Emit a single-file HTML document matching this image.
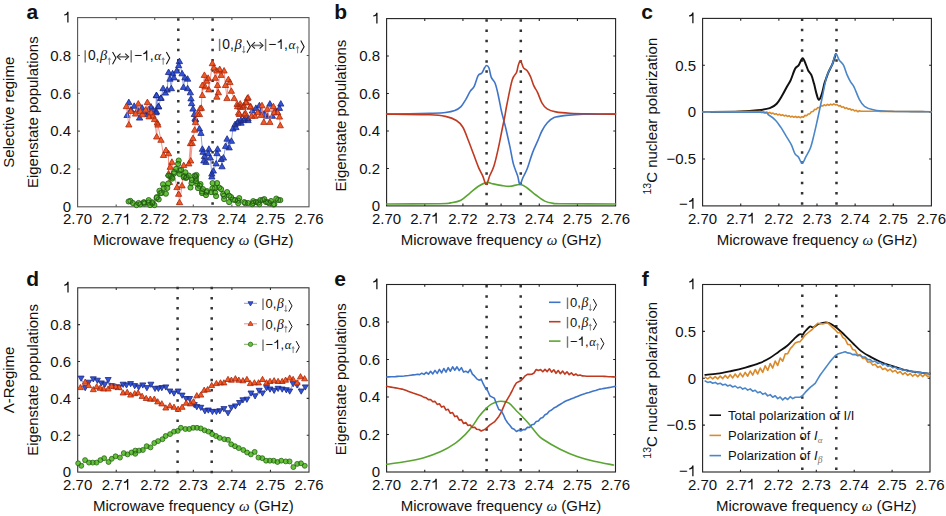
<!DOCTYPE html><html><head><meta charset="utf-8"><style>html,body{margin:0;padding:0;background:#fff;width:946px;height:516px;overflow:hidden}svg{display:block}text{font-family:"Liberation Sans",sans-serif;fill:#111}.sf{font-family:"Liberation Serif",serif;font-style:italic}</style></head><body>
<svg width="946" height="516" viewBox="0 0 946 516">
<rect x="77.6" y="17.6" width="231.40" height="189.20" fill="none" stroke="#555" stroke-width="1.1"/>
<path d="M116.17 206.8v-2.3M116.17 17.6v2.3M154.73 206.8v-2.3M154.73 17.6v2.3M193.30 206.8v-2.3M193.30 17.6v2.3M231.87 206.8v-2.3M231.87 17.6v2.3M270.43 206.8v-2.3M270.43 17.6v2.3M77.6 168.96h2.3M309.0 168.96h-2.3M77.6 131.12h2.3M309.0 131.12h-2.3M77.6 93.28h2.3M309.0 93.28h-2.3M77.6 55.44h2.3M309.0 55.44h-2.3" stroke="#555" stroke-width="1.1" fill="none"/>
<rect x="386.6" y="18.6" width="229.00" height="187.30" fill="none" stroke="#222" stroke-width="1.1"/>
<path d="M424.77 205.9v-2.3M424.77 18.6v2.3M462.93 205.9v-2.3M462.93 18.6v2.3M501.10 205.9v-2.3M501.10 18.6v2.3M539.27 205.9v-2.3M539.27 18.6v2.3M577.43 205.9v-2.3M577.43 18.6v2.3M386.6 168.44h2.3M615.6 168.44h-2.3M386.6 130.98h2.3M615.6 130.98h-2.3M386.6 93.52h2.3M615.6 93.52h-2.3M386.6 56.06h2.3M615.6 56.06h-2.3" stroke="#222" stroke-width="1.1" fill="none"/>
<rect x="702.6" y="18.4" width="228.80" height="187.50" fill="none" stroke="#222" stroke-width="1.1"/>
<path d="M740.73 205.9v-2.3M740.73 18.4v2.3M778.87 205.9v-2.3M778.87 18.4v2.3M817.00 205.9v-2.3M817.00 18.4v2.3M855.13 205.9v-2.3M855.13 18.4v2.3M893.27 205.9v-2.3M893.27 18.4v2.3M702.6 159.03h2.3M931.4 159.03h-2.3M702.6 112.15h2.3M931.4 112.15h-2.3M702.6 65.28h2.3M931.4 65.28h-2.3" stroke="#222" stroke-width="1.1" fill="none"/>
<rect x="77.7" y="287.8" width="231.30" height="184.30" fill="none" stroke="#333" stroke-width="1.1"/>
<path d="M116.25 472.1v-2.3M116.25 287.8v2.3M154.80 472.1v-2.3M154.80 287.8v2.3M193.35 472.1v-2.3M193.35 287.8v2.3M231.90 472.1v-2.3M231.90 287.8v2.3M270.45 472.1v-2.3M270.45 287.8v2.3M77.7 435.24h2.3M309.0 435.24h-2.3M77.7 398.38h2.3M309.0 398.38h-2.3M77.7 361.52h2.3M309.0 361.52h-2.3M77.7 324.66h2.3M309.0 324.66h-2.3" stroke="#333" stroke-width="1.1" fill="none"/>
<rect x="386.6" y="284.5" width="228.90" height="187.50" fill="none" stroke="#222" stroke-width="1.1"/>
<path d="M424.75 472.0v-2.3M424.75 284.5v2.3M462.90 472.0v-2.3M462.90 284.5v2.3M501.05 472.0v-2.3M501.05 284.5v2.3M539.20 472.0v-2.3M539.20 284.5v2.3M577.35 472.0v-2.3M577.35 284.5v2.3M386.6 434.50h2.3M615.5 434.50h-2.3M386.6 397.00h2.3M615.5 397.00h-2.3M386.6 359.50h2.3M615.5 359.50h-2.3M386.6 322.00h2.3M615.5 322.00h-2.3" stroke="#222" stroke-width="1.1" fill="none"/>
<rect x="702.6" y="284.5" width="227.40" height="187.50" fill="none" stroke="#222" stroke-width="1.1"/>
<path d="M740.50 472.0v-2.3M740.50 284.5v2.3M778.40 472.0v-2.3M778.40 284.5v2.3M816.30 472.0v-2.3M816.30 284.5v2.3M854.20 472.0v-2.3M854.20 284.5v2.3M892.10 472.0v-2.3M892.10 284.5v2.3M702.6 425.12h2.3M930.0 425.12h-2.3M702.6 378.25h2.3M930.0 378.25h-2.3M702.6 331.38h2.3M930.0 331.38h-2.3" stroke="#222" stroke-width="1.1" fill="none"/>
<text x="63.00" y="224.40" font-size="15" style="fill:#111">2.70</text>
<text x="101.57" y="224.40" font-size="15" style="fill:#111">2.7<tspan style="fill:transparent">1</tspan></text>
<path d="M126.92 213.66L128.20 213.66L128.20 224.40L126.92 224.40L126.92 216.60C126.17 217.20 124.97 217.50 123.77 217.58L123.77 216.53C125.27 216.30 126.47 215.40 126.92 213.66Z" fill="#111"/>
<text x="140.14" y="224.40" font-size="15" style="fill:#111">2.72</text>
<text x="178.70" y="224.40" font-size="15" style="fill:#111">2.73</text>
<text x="217.27" y="224.40" font-size="15" style="fill:#111">2.74</text>
<text x="255.84" y="224.40" font-size="15" style="fill:#111">2.75</text>
<text x="294.40" y="224.40" font-size="15" style="fill:#111">2.76</text>
<text x="62.76" y="212.10" font-size="15" style="fill:#111">0</text>
<text x="50.25" y="174.26" font-size="15" style="fill:#111">0.2</text>
<text x="50.25" y="136.42" font-size="15" style="fill:#111">0.4</text>
<text x="50.25" y="98.58" font-size="15" style="fill:#111">0.6</text>
<text x="50.25" y="60.74" font-size="15" style="fill:#111">0.8</text>
<text x="62.76" y="22.40" font-size="15" style="fill:#111"><tspan style="fill:transparent">1</tspan></text>
<path d="M67.26 11.66L68.53 11.66L68.53 22.40L67.26 22.40L67.26 14.60C66.51 15.20 65.31 15.50 64.11 15.57L64.11 14.52C65.61 14.30 66.81 13.40 67.26 11.66Z" fill="#111"/>
<text x="193.30" y="245.40" font-size="15" text-anchor="middle">Microwave frequency <tspan class="sf">ω</tspan> (GHz)</text>
<text transform="translate(37.5,112.20) rotate(-90)" font-size="15" text-anchor="middle">Eigenstate populations</text>
<text transform="translate(14,112.20) rotate(-90)" font-size="15" text-anchor="middle">Selective regime</text>
<text x="372.00" y="223.50" font-size="15" style="fill:#111">2.70</text>
<text x="410.17" y="223.50" font-size="15" style="fill:#111">2.7<tspan style="fill:transparent">1</tspan></text>
<path d="M435.52 212.76L436.80 212.76L436.80 223.50L435.52 223.50L435.52 215.70C434.77 216.30 433.57 216.60 432.37 216.68L432.37 215.62C433.87 215.40 435.07 214.50 435.52 212.76Z" fill="#111"/>
<text x="448.34" y="223.50" font-size="15" style="fill:#111">2.72</text>
<text x="486.50" y="223.50" font-size="15" style="fill:#111">2.73</text>
<text x="524.67" y="223.50" font-size="15" style="fill:#111">2.74</text>
<text x="562.84" y="223.50" font-size="15" style="fill:#111">2.75</text>
<text x="601.00" y="223.50" font-size="15" style="fill:#111">2.76</text>
<text x="371.76" y="211.20" font-size="15" style="fill:#111">0</text>
<text x="359.25" y="173.74" font-size="15" style="fill:#111">0.2</text>
<text x="359.25" y="136.28" font-size="15" style="fill:#111">0.4</text>
<text x="359.25" y="98.82" font-size="15" style="fill:#111">0.6</text>
<text x="359.25" y="61.36" font-size="15" style="fill:#111">0.8</text>
<text x="371.76" y="23.40" font-size="15" style="fill:#111"><tspan style="fill:transparent">1</tspan></text>
<path d="M376.26 12.66L377.53 12.66L377.53 23.40L376.26 23.40L376.26 15.60C375.51 16.20 374.31 16.50 373.11 16.57L373.11 15.52C374.61 15.30 375.81 14.40 376.26 12.66Z" fill="#111"/>
<text x="501.10" y="244.50" font-size="15" text-anchor="middle">Microwave frequency <tspan class="sf">ω</tspan> (GHz)</text>
<text transform="translate(346,115.55) rotate(-90)" font-size="15" text-anchor="middle">Eigenstate populations</text>
<text x="688.00" y="223.50" font-size="15" style="fill:#111">2.70</text>
<text x="726.14" y="223.50" font-size="15" style="fill:#111">2.7<tspan style="fill:transparent">1</tspan></text>
<path d="M751.49 212.76L752.76 212.76L752.76 223.50L751.49 223.50L751.49 215.70C750.74 216.30 749.54 216.60 748.34 216.68L748.34 215.62C749.84 215.40 751.04 214.50 751.49 212.76Z" fill="#111"/>
<text x="764.27" y="223.50" font-size="15" style="fill:#111">2.72</text>
<text x="802.40" y="223.50" font-size="15" style="fill:#111">2.73</text>
<text x="840.54" y="223.50" font-size="15" style="fill:#111">2.74</text>
<text x="878.67" y="223.50" font-size="15" style="fill:#111">2.75</text>
<text x="916.80" y="223.50" font-size="15" style="fill:#111">2.76</text>
<text x="679.00" y="208.70" font-size="15" style="fill:#111">−<tspan style="fill:transparent">1</tspan></text>
<path d="M692.26 197.96L693.53 197.96L693.53 208.70L692.26 208.70L692.26 200.90C691.51 201.50 690.31 201.80 689.11 201.88L689.11 200.83C690.61 200.60 691.81 199.70 692.26 197.96Z" fill="#111"/>
<text x="666.49" y="164.33" font-size="15" style="fill:#111">−0.5</text>
<text x="687.76" y="117.45" font-size="15" style="fill:#111">0</text>
<text x="675.25" y="70.58" font-size="15" style="fill:#111">0.5</text>
<text x="687.76" y="23.20" font-size="15" style="fill:#111"><tspan style="fill:transparent">1</tspan></text>
<path d="M692.26 12.46L693.53 12.46L693.53 23.20L692.26 23.20L692.26 15.40C691.51 16.00 690.31 16.30 689.11 16.38L689.11 15.33C690.61 15.10 691.81 14.20 692.26 12.46Z" fill="#111"/>
<text x="817.00" y="244.50" font-size="15" text-anchor="middle">Microwave frequency <tspan class="sf">ω</tspan> (GHz)</text>
<text transform="translate(657,116.15) rotate(-90)" font-size="15" text-anchor="middle"><tspan font-size="10.5" dy="-6.3">13</tspan><tspan dy="6.3">C nuclear polarization</tspan></text>
<text x="63.10" y="489.70" font-size="15" style="fill:#111">2.70</text>
<text x="101.65" y="489.70" font-size="15" style="fill:#111">2.7<tspan style="fill:transparent">1</tspan></text>
<path d="M127.00 478.96L128.28 478.96L128.28 489.70L127.00 489.70L127.00 481.90C126.25 482.50 125.05 482.80 123.85 482.88L123.85 481.83C125.35 481.60 126.55 480.70 127.00 478.96Z" fill="#111"/>
<text x="140.20" y="489.70" font-size="15" style="fill:#111">2.72</text>
<text x="178.75" y="489.70" font-size="15" style="fill:#111">2.73</text>
<text x="217.30" y="489.70" font-size="15" style="fill:#111">2.74</text>
<text x="255.85" y="489.70" font-size="15" style="fill:#111">2.75</text>
<text x="294.40" y="489.70" font-size="15" style="fill:#111">2.76</text>
<text x="62.86" y="477.40" font-size="15" style="fill:#111">0</text>
<text x="50.35" y="440.54" font-size="15" style="fill:#111">0.2</text>
<text x="50.35" y="403.68" font-size="15" style="fill:#111">0.4</text>
<text x="50.35" y="366.82" font-size="15" style="fill:#111">0.6</text>
<text x="50.35" y="329.96" font-size="15" style="fill:#111">0.8</text>
<text x="62.86" y="292.60" font-size="15" style="fill:#111"><tspan style="fill:transparent">1</tspan></text>
<path d="M67.36 281.86L68.63 281.86L68.63 292.60L67.36 292.60L67.36 284.80C66.61 285.40 65.41 285.70 64.21 285.78L64.21 284.73C65.71 284.50 66.91 283.60 67.36 281.86Z" fill="#111"/>
<text x="193.35" y="510.70" font-size="15" text-anchor="middle">Microwave frequency <tspan class="sf">ω</tspan> (GHz)</text>
<text transform="translate(37.5,379.95) rotate(-90)" font-size="15" text-anchor="middle">Eigenstate populations</text>
<text transform="translate(14,379.95) rotate(-90)" font-size="15" text-anchor="middle">Λ-Regime</text>
<text x="372.00" y="489.60" font-size="15" style="fill:#111">2.70</text>
<text x="410.15" y="489.60" font-size="15" style="fill:#111">2.7<tspan style="fill:transparent">1</tspan></text>
<path d="M435.50 478.86L436.78 478.86L436.78 489.60L435.50 489.60L435.50 481.80C434.75 482.40 433.55 482.70 432.35 482.78L432.35 481.73C433.85 481.50 435.05 480.60 435.50 478.86Z" fill="#111"/>
<text x="448.30" y="489.60" font-size="15" style="fill:#111">2.72</text>
<text x="486.45" y="489.60" font-size="15" style="fill:#111">2.73</text>
<text x="524.60" y="489.60" font-size="15" style="fill:#111">2.74</text>
<text x="562.75" y="489.60" font-size="15" style="fill:#111">2.75</text>
<text x="600.90" y="489.60" font-size="15" style="fill:#111">2.76</text>
<text x="371.76" y="477.30" font-size="15" style="fill:#111">0</text>
<text x="359.25" y="439.80" font-size="15" style="fill:#111">0.2</text>
<text x="359.25" y="402.30" font-size="15" style="fill:#111">0.4</text>
<text x="359.25" y="364.80" font-size="15" style="fill:#111">0.6</text>
<text x="359.25" y="327.30" font-size="15" style="fill:#111">0.8</text>
<text x="371.76" y="289.30" font-size="15" style="fill:#111"><tspan style="fill:transparent">1</tspan></text>
<path d="M376.26 278.56L377.53 278.56L377.53 289.30L376.26 289.30L376.26 281.50C375.51 282.10 374.31 282.40 373.11 282.48L373.11 281.43C374.61 281.20 375.81 280.30 376.26 278.56Z" fill="#111"/>
<text x="501.05" y="510.60" font-size="15" text-anchor="middle">Microwave frequency <tspan class="sf">ω</tspan> (GHz)</text>
<text transform="translate(346,379.25) rotate(-90)" font-size="15" text-anchor="middle">Eigenstate populations</text>
<text x="688.00" y="489.60" font-size="15" style="fill:#111">2.70</text>
<text x="725.90" y="489.60" font-size="15" style="fill:#111">2.7<tspan style="fill:transparent">1</tspan></text>
<path d="M751.25 478.86L752.53 478.86L752.53 489.60L751.25 489.60L751.25 481.80C750.50 482.40 749.30 482.70 748.10 482.78L748.10 481.73C749.60 481.50 750.80 480.60 751.25 478.86Z" fill="#111"/>
<text x="763.80" y="489.60" font-size="15" style="fill:#111">2.72</text>
<text x="801.70" y="489.60" font-size="15" style="fill:#111">2.73</text>
<text x="839.60" y="489.60" font-size="15" style="fill:#111">2.74</text>
<text x="877.50" y="489.60" font-size="15" style="fill:#111">2.75</text>
<text x="915.40" y="489.60" font-size="15" style="fill:#111">2.76</text>
<text x="679.00" y="476.30" font-size="15" style="fill:#111">−<tspan style="fill:transparent">1</tspan></text>
<path d="M692.26 465.56L693.53 465.56L693.53 476.30L692.26 476.30L692.26 468.50C691.51 469.10 690.31 469.40 689.11 469.48L689.11 468.43C690.61 468.20 691.81 467.30 692.26 465.56Z" fill="#111"/>
<text x="666.49" y="430.43" font-size="15" style="fill:#111">−0.5</text>
<text x="687.76" y="383.55" font-size="15" style="fill:#111">0</text>
<text x="675.25" y="336.68" font-size="15" style="fill:#111">0.5</text>
<text x="687.76" y="289.30" font-size="15" style="fill:#111"><tspan style="fill:transparent">1</tspan></text>
<path d="M692.26 278.56L693.53 278.56L693.53 289.30L692.26 289.30L692.26 281.50C691.51 282.10 690.31 282.40 689.11 282.48L689.11 281.43C690.61 281.20 691.81 280.30 692.26 278.56Z" fill="#111"/>
<text x="816.30" y="510.60" font-size="15" text-anchor="middle">Microwave frequency <tspan class="sf">ω</tspan> (GHz)</text>
<text transform="translate(657,380.25) rotate(-90)" font-size="15" text-anchor="middle"><tspan font-size="10.5" dy="-6.3">13</tspan><tspan dy="6.3">C nuclear polarization</tspan></text>
<text x="26.5" y="19.1" font-size="21" font-weight="bold">a</text>
<text x="334.2" y="19.1" font-size="21" font-weight="bold">b</text>
<text x="641.3" y="19.1" font-size="21" font-weight="bold">c</text>
<text x="26.3" y="286.4" font-size="21" font-weight="bold">d</text>
<text x="334.3" y="286.4" font-size="21" font-weight="bold">e</text>
<text x="641.8" y="286.4" font-size="21" font-weight="bold">f</text>
<path d="M177.05 18.15h2.5v2.5h-2.5zM177.05 28.38h2.5v2.5h-2.5zM177.05 38.61h2.5v2.5h-2.5zM177.05 48.83h2.5v2.5h-2.5zM177.05 59.06h2.5v2.5h-2.5zM177.05 69.29h2.5v2.5h-2.5zM177.05 79.52h2.5v2.5h-2.5zM177.05 89.74h2.5v2.5h-2.5zM177.05 99.97h2.5v2.5h-2.5zM177.05 110.20h2.5v2.5h-2.5zM177.05 120.43h2.5v2.5h-2.5zM177.05 130.66h2.5v2.5h-2.5zM177.05 140.88h2.5v2.5h-2.5zM177.05 151.11h2.5v2.5h-2.5zM177.05 161.34h2.5v2.5h-2.5zM177.05 171.57h2.5v2.5h-2.5zM177.05 181.79h2.5v2.5h-2.5zM177.05 192.02h2.5v2.5h-2.5zM177.05 202.25h2.5v2.5h-2.5zM211.35 18.15h2.5v2.5h-2.5zM211.35 28.38h2.5v2.5h-2.5zM211.35 38.61h2.5v2.5h-2.5zM211.35 48.83h2.5v2.5h-2.5zM211.35 59.06h2.5v2.5h-2.5zM211.35 69.29h2.5v2.5h-2.5zM211.35 79.52h2.5v2.5h-2.5zM211.35 89.74h2.5v2.5h-2.5zM211.35 99.97h2.5v2.5h-2.5zM211.35 110.20h2.5v2.5h-2.5zM211.35 120.43h2.5v2.5h-2.5zM211.35 130.66h2.5v2.5h-2.5zM211.35 140.88h2.5v2.5h-2.5zM211.35 151.11h2.5v2.5h-2.5zM211.35 161.34h2.5v2.5h-2.5zM211.35 171.57h2.5v2.5h-2.5zM211.35 181.79h2.5v2.5h-2.5zM211.35 192.02h2.5v2.5h-2.5zM211.35 202.25h2.5v2.5h-2.5z" fill="#333"/>
<path d="M485.35 19.35h2.5v2.5h-2.5zM485.35 29.54h2.5v2.5h-2.5zM485.35 39.74h2.5v2.5h-2.5zM485.35 49.93h2.5v2.5h-2.5zM485.35 60.13h2.5v2.5h-2.5zM485.35 70.32h2.5v2.5h-2.5zM485.35 80.52h2.5v2.5h-2.5zM485.35 90.71h2.5v2.5h-2.5zM485.35 100.91h2.5v2.5h-2.5zM485.35 111.10h2.5v2.5h-2.5zM485.35 121.29h2.5v2.5h-2.5zM485.35 131.49h2.5v2.5h-2.5zM485.35 141.68h2.5v2.5h-2.5zM485.35 151.88h2.5v2.5h-2.5zM485.35 162.07h2.5v2.5h-2.5zM485.35 172.27h2.5v2.5h-2.5zM485.35 182.46h2.5v2.5h-2.5zM485.35 192.66h2.5v2.5h-2.5zM485.35 202.85h2.5v2.5h-2.5zM519.55 19.35h2.5v2.5h-2.5zM519.55 29.54h2.5v2.5h-2.5zM519.55 39.74h2.5v2.5h-2.5zM519.55 49.93h2.5v2.5h-2.5zM519.55 60.13h2.5v2.5h-2.5zM519.55 70.32h2.5v2.5h-2.5zM519.55 80.52h2.5v2.5h-2.5zM519.55 90.71h2.5v2.5h-2.5zM519.55 100.91h2.5v2.5h-2.5zM519.55 111.10h2.5v2.5h-2.5zM519.55 121.29h2.5v2.5h-2.5zM519.55 131.49h2.5v2.5h-2.5zM519.55 141.68h2.5v2.5h-2.5zM519.55 151.88h2.5v2.5h-2.5zM519.55 162.07h2.5v2.5h-2.5zM519.55 172.27h2.5v2.5h-2.5zM519.55 182.46h2.5v2.5h-2.5zM519.55 192.66h2.5v2.5h-2.5zM519.55 202.85h2.5v2.5h-2.5z" fill="#333"/>
<path d="M800.85 18.55h2.5v2.5h-2.5zM800.85 28.75h2.5v2.5h-2.5zM800.85 38.95h2.5v2.5h-2.5zM800.85 49.15h2.5v2.5h-2.5zM800.85 59.35h2.5v2.5h-2.5zM800.85 69.55h2.5v2.5h-2.5zM800.85 79.75h2.5v2.5h-2.5zM800.85 89.95h2.5v2.5h-2.5zM800.85 100.15h2.5v2.5h-2.5zM800.85 110.35h2.5v2.5h-2.5zM800.85 120.55h2.5v2.5h-2.5zM800.85 130.75h2.5v2.5h-2.5zM800.85 140.95h2.5v2.5h-2.5zM800.85 151.15h2.5v2.5h-2.5zM800.85 161.35h2.5v2.5h-2.5zM800.85 171.55h2.5v2.5h-2.5zM800.85 181.75h2.5v2.5h-2.5zM800.85 191.95h2.5v2.5h-2.5zM800.85 202.15h2.5v2.5h-2.5zM835.25 18.55h2.5v2.5h-2.5zM835.25 28.75h2.5v2.5h-2.5zM835.25 38.95h2.5v2.5h-2.5zM835.25 49.15h2.5v2.5h-2.5zM835.25 59.35h2.5v2.5h-2.5zM835.25 69.55h2.5v2.5h-2.5zM835.25 79.75h2.5v2.5h-2.5zM835.25 89.95h2.5v2.5h-2.5zM835.25 100.15h2.5v2.5h-2.5zM835.25 110.35h2.5v2.5h-2.5zM835.25 120.55h2.5v2.5h-2.5zM835.25 130.75h2.5v2.5h-2.5zM835.25 140.95h2.5v2.5h-2.5zM835.25 151.15h2.5v2.5h-2.5zM835.25 161.35h2.5v2.5h-2.5zM835.25 171.55h2.5v2.5h-2.5zM835.25 181.75h2.5v2.5h-2.5zM835.25 191.95h2.5v2.5h-2.5zM835.25 202.15h2.5v2.5h-2.5z" fill="#333"/>
<path d="M176.35 286.65h2.5v2.5h-2.5zM176.35 296.88h2.5v2.5h-2.5zM176.35 307.11h2.5v2.5h-2.5zM176.35 317.33h2.5v2.5h-2.5zM176.35 327.56h2.5v2.5h-2.5zM176.35 337.79h2.5v2.5h-2.5zM176.35 348.02h2.5v2.5h-2.5zM176.35 358.24h2.5v2.5h-2.5zM176.35 368.47h2.5v2.5h-2.5zM176.35 378.70h2.5v2.5h-2.5zM176.35 388.93h2.5v2.5h-2.5zM176.35 399.16h2.5v2.5h-2.5zM176.35 409.38h2.5v2.5h-2.5zM176.35 419.61h2.5v2.5h-2.5zM176.35 429.84h2.5v2.5h-2.5zM176.35 440.07h2.5v2.5h-2.5zM176.35 450.29h2.5v2.5h-2.5zM176.35 460.52h2.5v2.5h-2.5zM176.35 470.75h2.5v2.5h-2.5zM210.45 286.65h2.5v2.5h-2.5zM210.45 296.88h2.5v2.5h-2.5zM210.45 307.11h2.5v2.5h-2.5zM210.45 317.33h2.5v2.5h-2.5zM210.45 327.56h2.5v2.5h-2.5zM210.45 337.79h2.5v2.5h-2.5zM210.45 348.02h2.5v2.5h-2.5zM210.45 358.24h2.5v2.5h-2.5zM210.45 368.47h2.5v2.5h-2.5zM210.45 378.70h2.5v2.5h-2.5zM210.45 388.93h2.5v2.5h-2.5zM210.45 399.16h2.5v2.5h-2.5zM210.45 409.38h2.5v2.5h-2.5zM210.45 419.61h2.5v2.5h-2.5zM210.45 429.84h2.5v2.5h-2.5zM210.45 440.07h2.5v2.5h-2.5zM210.45 450.29h2.5v2.5h-2.5zM210.45 460.52h2.5v2.5h-2.5zM210.45 470.75h2.5v2.5h-2.5z" fill="#333"/>
<path d="M485.35 284.95h2.5v2.5h-2.5zM485.35 295.18h2.5v2.5h-2.5zM485.35 305.41h2.5v2.5h-2.5zM485.35 315.63h2.5v2.5h-2.5zM485.35 325.86h2.5v2.5h-2.5zM485.35 336.09h2.5v2.5h-2.5zM485.35 346.32h2.5v2.5h-2.5zM485.35 356.54h2.5v2.5h-2.5zM485.35 366.77h2.5v2.5h-2.5zM485.35 377.00h2.5v2.5h-2.5zM485.35 387.23h2.5v2.5h-2.5zM485.35 397.46h2.5v2.5h-2.5zM485.35 407.68h2.5v2.5h-2.5zM485.35 417.91h2.5v2.5h-2.5zM485.35 428.14h2.5v2.5h-2.5zM485.35 438.37h2.5v2.5h-2.5zM485.35 448.59h2.5v2.5h-2.5zM485.35 458.82h2.5v2.5h-2.5zM485.35 469.05h2.5v2.5h-2.5zM519.45 284.95h2.5v2.5h-2.5zM519.45 295.18h2.5v2.5h-2.5zM519.45 305.41h2.5v2.5h-2.5zM519.45 315.63h2.5v2.5h-2.5zM519.45 325.86h2.5v2.5h-2.5zM519.45 336.09h2.5v2.5h-2.5zM519.45 346.32h2.5v2.5h-2.5zM519.45 356.54h2.5v2.5h-2.5zM519.45 366.77h2.5v2.5h-2.5zM519.45 377.00h2.5v2.5h-2.5zM519.45 387.23h2.5v2.5h-2.5zM519.45 397.46h2.5v2.5h-2.5zM519.45 407.68h2.5v2.5h-2.5zM519.45 417.91h2.5v2.5h-2.5zM519.45 428.14h2.5v2.5h-2.5zM519.45 438.37h2.5v2.5h-2.5zM519.45 448.59h2.5v2.5h-2.5zM519.45 458.82h2.5v2.5h-2.5zM519.45 469.05h2.5v2.5h-2.5z" fill="#333"/>
<path d="M801.05 284.35h2.5v2.5h-2.5zM801.05 294.53h2.5v2.5h-2.5zM801.05 304.71h2.5v2.5h-2.5zM801.05 314.88h2.5v2.5h-2.5zM801.05 325.06h2.5v2.5h-2.5zM801.05 335.24h2.5v2.5h-2.5zM801.05 345.42h2.5v2.5h-2.5zM801.05 355.59h2.5v2.5h-2.5zM801.05 365.77h2.5v2.5h-2.5zM801.05 375.95h2.5v2.5h-2.5zM801.05 386.13h2.5v2.5h-2.5zM801.05 396.31h2.5v2.5h-2.5zM801.05 406.48h2.5v2.5h-2.5zM801.05 416.66h2.5v2.5h-2.5zM801.05 426.84h2.5v2.5h-2.5zM801.05 437.02h2.5v2.5h-2.5zM801.05 447.19h2.5v2.5h-2.5zM801.05 457.37h2.5v2.5h-2.5zM801.05 467.55h2.5v2.5h-2.5zM835.05 284.35h2.5v2.5h-2.5zM835.05 294.53h2.5v2.5h-2.5zM835.05 304.71h2.5v2.5h-2.5zM835.05 314.88h2.5v2.5h-2.5zM835.05 325.06h2.5v2.5h-2.5zM835.05 335.24h2.5v2.5h-2.5zM835.05 345.42h2.5v2.5h-2.5zM835.05 355.59h2.5v2.5h-2.5zM835.05 365.77h2.5v2.5h-2.5zM835.05 375.95h2.5v2.5h-2.5zM835.05 386.13h2.5v2.5h-2.5zM835.05 396.31h2.5v2.5h-2.5zM835.05 406.48h2.5v2.5h-2.5zM835.05 416.66h2.5v2.5h-2.5zM835.05 426.84h2.5v2.5h-2.5zM835.05 437.02h2.5v2.5h-2.5zM835.05 447.19h2.5v2.5h-2.5zM835.05 457.37h2.5v2.5h-2.5zM835.05 467.55h2.5v2.5h-2.5z" fill="#333"/>
<path d="M127.1 115.4 L128.8 102.5 L131.0 110.0 L134.2 106.2 L137.6 110.0 L139.6 118.0 L142.0 108.0 L144.0 112.0 L147.8 114.4 L148.5 109.6 L151.0 107.0 L153.2 110.0 L155.9 112.7 L156.4 95.4 L156.4 111.7 L156.6 95.7 L158.4 106.3 L158.6 106.9 L160.7 98.4 L161.1 98.1 L163.1 88.6 L165.4 93.0 L167.2 90.0 L168.6 72.4 L169.9 79.1 L171.3 88.6 L172.6 73.7 L174.0 77.8 L176.7 71.0 L178.7 65.6 L179.4 61.5 L182.1 73.7 L183.5 87.3 L184.9 77.8 L187.6 79.1 L187.6 88.6 L190.3 92.7 L191.0 98.8 L191.6 103.6 L193.0 109.0 L194.3 114.4 L195.1 118.7 L195.7 119.8 L199.4 128.9 L200.9 133.3 L202.4 149.2 L203.1 152.2 L203.8 160.9 L204.5 156.5 L206.0 162.3 L208.2 153.6 L208.9 149.2 L210.3 158.0 L211.8 174.0 L211.8 176.9 L213.3 171.0 L216.2 163.8 L216.9 153.6 L217.6 149.2 L221.2 159.4 L222.0 166.7 L223.4 158.0 L225.6 146.3 L227.1 139.1 L229.2 147.8 L231.4 141.2 L232.9 128.9 L235.1 124.5 L235.9 127.5 L237.6 123.1 L238.0 121.6 L240.9 120.2 L241.1 123.1 L243.7 120.5 L244.5 118.7 L248.1 118.7 L248.1 120.5 L252.4 110.9 L255.9 108.3 L259.4 105.7 L261.2 110.9 L264.6 114.4 L267.3 116.2 L269.9 104.0 L272.5 116.2 L275.0 110.0 L277.0 112.0 L279.5 108.3 L280.8 104.0" stroke="#8a9ad8" stroke-width="0.9" fill="none"/>
<path d="M127.1 112.0L130.2 117.5L123.9 117.5zM128.8 99.1L132.0 104.6L125.7 104.6zM131.0 106.6L134.2 112.1L127.8 112.1zM134.2 102.8L137.3 108.3L131.0 108.3zM137.6 106.6L140.8 112.1L134.4 112.1zM139.6 114.6L142.8 120.1L136.4 120.1zM142.0 104.6L145.2 110.1L138.8 110.1zM144.0 108.6L147.2 114.1L140.8 114.1zM147.8 111.0L151.0 116.5L144.7 116.5zM148.5 106.2L151.7 111.7L145.3 111.7zM151.0 103.6L154.2 109.1L147.8 109.1zM153.2 106.6L156.3 112.1L150.0 112.1zM155.9 109.3L159.1 114.8L152.8 114.8zM156.4 92.0L159.6 97.5L153.2 97.5zM156.4 108.3L159.6 113.8L153.2 113.8zM156.6 92.3L159.8 97.8L153.4 97.8zM158.4 102.9L161.6 108.4L155.2 108.4zM158.6 103.5L161.8 109.0L155.4 109.0zM160.7 95.0L163.8 100.5L157.5 100.5zM161.1 94.7L164.2 100.2L157.9 100.2zM163.1 85.2L166.2 90.7L159.9 90.7zM165.4 89.6L168.6 95.1L162.2 95.1zM167.2 86.6L170.3 92.1L164.0 92.1zM168.6 69.0L171.8 74.5L165.4 74.5zM169.9 75.7L173.1 81.2L166.8 81.2zM171.3 85.2L174.5 90.7L168.2 90.7zM172.6 70.3L175.8 75.8L169.4 75.8zM174.0 74.4L177.2 79.9L170.8 79.9zM176.7 67.6L179.8 73.1L173.5 73.1zM178.7 62.2L181.8 67.7L175.5 67.7zM179.4 58.1L182.6 63.6L176.2 63.6zM182.1 70.3L185.2 75.8L178.9 75.8zM183.5 83.9L186.7 89.4L180.3 89.4zM184.9 74.4L188.1 79.9L181.8 79.9zM187.6 75.7L190.8 81.2L184.4 81.2zM187.6 85.2L190.8 90.7L184.4 90.7zM190.3 89.3L193.5 94.8L187.2 94.8zM191.0 95.4L194.2 100.9L187.8 100.9zM191.6 100.2L194.8 105.7L188.4 105.7zM193.0 105.6L196.2 111.1L189.8 111.1zM194.3 111.0L197.5 116.5L191.2 116.5zM195.1 115.3L198.2 120.8L191.9 120.8zM195.7 116.4L198.8 121.9L192.5 121.9zM199.4 125.5L202.6 131.0L196.2 131.0zM200.9 129.9L204.1 135.4L197.8 135.4zM202.4 145.8L205.6 151.3L199.2 151.3zM203.1 148.8L206.2 154.3L199.9 154.3zM203.8 157.5L207.0 163.0L200.7 163.0zM204.5 153.1L207.7 158.6L201.3 158.6zM206.0 158.9L209.2 164.4L202.8 164.4zM208.2 150.2L211.3 155.7L205.0 155.7zM208.9 145.8L212.1 151.3L205.8 151.3zM210.3 154.6L213.5 160.1L207.2 160.1zM211.8 170.6L215.0 176.1L208.7 176.1zM211.8 173.5L215.0 179.0L208.7 179.0zM213.3 167.6L216.5 173.1L210.2 173.1zM216.2 160.4L219.3 165.9L213.0 165.9zM216.9 150.2L220.1 155.7L213.8 155.7zM217.6 145.8L220.8 151.3L214.4 151.3zM221.2 156.0L224.3 161.5L218.0 161.5zM222.0 163.3L225.2 168.8L218.8 168.8zM223.4 154.6L226.6 160.1L220.2 160.1zM225.6 142.9L228.8 148.4L222.4 148.4zM227.1 135.7L230.2 141.2L223.9 141.2zM229.2 144.4L232.3 149.9L226.0 149.9zM231.4 137.8L234.6 143.3L228.2 143.3zM232.9 125.5L236.1 131.0L229.8 131.0zM235.1 121.1L238.2 126.6L231.9 126.6zM235.9 124.1L239.1 129.6L232.8 129.6zM237.6 119.7L240.8 125.2L234.4 125.2zM238.0 118.2L241.2 123.7L234.8 123.7zM240.9 116.8L244.1 122.3L237.8 122.3zM241.1 119.7L244.2 125.2L237.9 125.2zM243.7 117.1L246.8 122.6L240.5 122.6zM244.5 115.3L247.7 120.8L241.3 120.8zM248.1 115.3L251.2 120.8L244.9 120.8zM248.1 117.1L251.2 122.6L244.9 122.6zM252.4 107.5L255.6 113.0L249.2 113.0zM255.9 104.9L259.1 110.4L252.8 110.4zM259.4 102.3L262.5 107.8L256.2 107.8zM261.2 107.5L264.3 113.0L258.1 113.0zM264.6 111.0L267.8 116.5L261.5 116.5zM267.3 112.8L270.4 118.3L264.2 118.3zM269.9 100.6L273.0 106.1L266.8 106.1zM272.5 112.8L275.6 118.3L269.4 118.3zM275.0 106.6L278.1 112.1L271.9 112.1zM277.0 108.6L280.1 114.1L273.9 114.1zM279.5 104.9L282.6 110.4L276.4 110.4zM280.8 100.6L283.9 106.1L277.7 106.1z" fill="#3355dd" stroke="#1c2a80" stroke-width="0.8" stroke-linejoin="miter"/>
<path d="M126.4 106.6 L128.8 124.9 L130.8 111.3 L135.6 114.0 L138.3 103.9 L140.3 111.3 L142.4 114.7 L145.7 110.0 L147.4 102.5 L149.1 116.8 L151.2 112.7 L153.2 116.1 L154.6 119.5 L156.7 136.9 L157.3 122.9 L157.9 125.0 L161.0 140.2 L163.5 155.4 L166.0 150.4 L168.5 153.7 L168.5 174.0 L169.4 182.4 L170.2 167.2 L171.9 162.2 L177.0 187.5 L178.7 194.2 L179.5 202.6 L182.0 185.8 L183.7 165.5 L188.8 163.8 L190.5 143.6 L190.7 160.9 L192.2 143.4 L193.0 138.5 L194.7 130.1 L195.5 122.5 L197.3 114.2 L199.4 114.5 L200.1 108.7 L201.3 108.2 L202.3 85.4 L202.3 95.4 L204.4 75.3 L205.2 86.9 L206.6 81.1 L208.1 78.2 L208.8 89.8 L212.4 63.6 L213.9 68.0 L215.3 78.2 L216.8 70.9 L216.8 97.1 L217.5 85.4 L218.3 92.7 L219.7 69.4 L221.2 75.3 L224.1 70.9 L225.5 85.4 L227.0 98.5 L228.4 79.6 L229.9 82.5 L231.3 91.2 L234.2 98.5 L237.2 104.3 L237.6 106.6 L238.6 113.0 L239.4 114.4 L240.1 107.2 L240.2 104.0 L243.0 107.2 L243.7 105.7 L244.4 114.5 L245.5 113.5 L245.9 102.9 L246.3 102.2 L247.3 98.5 L248.1 97.8 L250.2 107.2 L250.7 106.6 L251.6 116.2 L255.0 116.2 L257.7 112.7 L261.2 115.3 L262.0 105.7 L263.8 122.3 L267.3 109.2 L269.9 122.3 L273.4 106.6 L274.2 112.7 L277.7 112.7 L279.5 117.0 L280.3 125.7" stroke="#f08a80" stroke-width="0.9" fill="none"/>
<path d="M126.4 103.2L129.6 108.7L123.2 108.7zM128.8 121.5L132.0 127.0L125.7 127.0zM130.8 107.9L134.0 113.4L127.7 113.4zM135.6 110.6L138.8 116.1L132.4 116.1zM138.3 100.5L141.5 106.0L135.2 106.0zM140.3 107.9L143.5 113.4L137.2 113.4zM142.4 111.3L145.6 116.8L139.2 116.8zM145.7 106.6L148.8 112.1L142.5 112.1zM147.4 99.1L150.6 104.6L144.2 104.6zM149.1 113.4L152.2 118.9L145.9 118.9zM151.2 109.3L154.3 114.8L148.0 114.8zM153.2 112.7L156.3 118.2L150.0 118.2zM154.6 116.1L157.8 121.6L151.4 121.6zM156.7 133.5L159.8 139.0L153.5 139.0zM157.3 119.5L160.5 125.0L154.2 125.0zM157.9 121.6L161.1 127.1L154.8 127.1zM161.0 136.8L164.2 142.3L157.8 142.3zM163.5 152.0L166.7 157.5L160.3 157.5zM166.0 147.0L169.2 152.5L162.8 152.5zM168.5 150.3L171.7 155.8L165.3 155.8zM168.5 170.6L171.7 176.1L165.3 176.1zM169.4 179.0L172.6 184.5L166.2 184.5zM170.2 163.8L173.3 169.3L167.0 169.3zM171.9 158.8L175.1 164.3L168.8 164.3zM177.0 184.1L180.2 189.6L173.8 189.6zM178.7 190.8L181.8 196.3L175.5 196.3zM179.5 199.2L182.7 204.7L176.3 204.7zM182.0 182.4L185.2 187.9L178.8 187.9zM183.7 162.1L186.8 167.6L180.5 167.6zM188.8 160.4L192.0 165.9L185.7 165.9zM190.5 140.2L193.7 145.7L187.3 145.7zM190.7 157.5L193.8 163.0L187.5 163.0zM192.2 140.0L195.3 145.5L189.0 145.5zM193.0 135.1L196.2 140.6L189.8 140.6zM194.7 126.7L197.8 132.2L191.5 132.2zM195.5 119.1L198.7 124.6L192.3 124.6zM197.3 110.8L200.5 116.3L194.2 116.3zM199.4 111.1L202.6 116.6L196.2 116.6zM200.1 105.3L203.2 110.8L196.9 110.8zM201.3 104.8L204.5 110.3L198.2 110.3zM202.3 82.0L205.5 87.5L199.2 87.5zM202.3 92.0L205.5 97.5L199.2 97.5zM204.4 71.9L207.6 77.4L201.2 77.4zM205.2 83.5L208.3 89.0L202.0 89.0zM206.6 77.7L209.8 83.2L203.4 83.2zM208.1 74.8L211.2 80.3L204.9 80.3zM208.8 86.4L212.0 91.9L205.7 91.9zM212.4 60.2L215.6 65.7L209.2 65.7zM213.9 64.6L217.1 70.1L210.8 70.1zM215.3 74.8L218.5 80.3L212.2 80.3zM216.8 67.5L220.0 73.0L213.7 73.0zM216.8 93.7L220.0 99.2L213.7 99.2zM217.5 82.0L220.7 87.5L214.3 87.5zM218.3 89.3L221.5 94.8L215.2 94.8zM219.7 66.0L222.8 71.5L216.5 71.5zM221.2 71.9L224.3 77.4L218.0 77.4zM224.1 67.5L227.2 73.0L220.9 73.0zM225.5 82.0L228.7 87.5L222.3 87.5zM227.0 95.1L230.2 100.6L223.8 100.6zM228.4 76.2L231.6 81.7L225.2 81.7zM229.9 79.1L233.1 84.6L226.8 84.6zM231.3 87.8L234.5 93.3L228.2 93.3zM234.2 95.1L237.3 100.6L231.0 100.6zM237.2 100.9L240.3 106.4L234.0 106.4zM237.6 103.2L240.8 108.7L234.4 108.7zM238.6 109.6L241.8 115.1L235.4 115.1zM239.4 111.0L242.6 116.5L236.2 116.5zM240.1 103.8L243.2 109.3L236.9 109.3zM240.2 100.6L243.3 106.1L237.0 106.1zM243.0 103.8L246.2 109.3L239.8 109.3zM243.7 102.3L246.8 107.8L240.5 107.8zM244.4 111.1L247.6 116.6L241.2 116.6zM245.5 110.1L248.7 115.6L242.3 115.6zM245.9 99.5L249.1 105.0L242.8 105.0zM246.3 98.8L249.5 104.3L243.2 104.3zM247.3 95.1L250.5 100.6L244.2 100.6zM248.1 94.4L251.2 99.9L244.9 99.9zM250.2 103.8L253.3 109.3L247.0 109.3zM250.7 103.2L253.8 108.7L247.5 108.7zM251.6 112.8L254.8 118.3L248.4 118.3zM255.0 112.8L258.1 118.3L251.8 118.3zM257.7 109.3L260.8 114.8L254.5 114.8zM261.2 111.9L264.3 117.4L258.1 117.4zM262.0 102.3L265.1 107.8L258.9 107.8zM263.8 118.9L266.9 124.4L260.7 124.4zM267.3 105.8L270.4 111.3L264.2 111.3zM269.9 118.9L273.0 124.4L266.8 124.4zM273.4 103.2L276.5 108.7L270.2 108.7zM274.2 109.3L277.3 114.8L271.1 114.8zM277.7 109.3L280.8 114.8L274.6 114.8zM279.5 113.6L282.6 119.1L276.4 119.1zM280.3 122.3L283.4 127.8L277.2 127.8z" fill="#f25a22" stroke="#a82810" stroke-width="0.8" stroke-linejoin="miter"/>
<path d="M128.6 201.5 L130.4 200.9 L132.9 203.0 L136.5 205.1 L138.6 203.0 L140.1 204.4 L143.7 202.3 L144.1 202.5 L144.4 203.7 L148.5 202.6 L148.7 200.1 L150.1 205.1 L152.3 202.3 L152.4 203.4 L154.4 205.1 L156.6 198.0 L156.8 197.1 L158.7 199.4 L159.4 190.8 L160.3 193.2 L161.6 192.9 L163.0 184.3 L163.7 187.9 L165.9 193.7 L167.3 187.9 L168.2 183.5 L168.5 175.6 L169.5 175.7 L170.9 176.1 L171.9 177.3 L172.3 178.6 L174.0 172.0 L174.1 173.5 L176.1 168.9 L178.1 163.9 L178.7 160.5 L179.5 174.0 L179.5 170.5 L181.0 170.0 L183.7 177.3 L184.2 176.1 L185.4 172.3 L186.0 178.0 L186.8 177.1 L188.8 175.6 L190.5 187.5 L191.5 183.2 L192.0 180.0 L194.7 175.6 L195.4 176.6 L196.0 178.4 L196.0 181.1 L196.5 175.0 L197.2 184.1 L198.0 188.1 L199.6 185.8 L200.5 184.1 L202.0 193.1 L202.1 191.4 L203.0 189.1 L206.0 195.1 L206.4 192.3 L207.0 191.1 L211.1 192.1 L212.4 188.4 L212.6 183.1 L215.1 192.4 L215.1 188.1 L216.1 196.1 L217.1 183.1 L219.2 187.6 L221.1 189.1 L223.1 194.1 L224.1 195.8 L224.1 199.1 L227.1 192.1 L229.1 195.6 L229.1 202.1 L231.1 197.1 L233.0 199.6 L235.2 200.1 L238.0 200.6 L238.2 203.2 L239.2 198.1 L244.2 202.1 L245.2 203.2 L248.0 203.0 L252.2 204.2 L253.2 201.1 L253.2 202.9 L256.0 202.0 L258.4 202.4 L259.3 204.2 L260.3 200.1 L262.7 200.0 L264.3 199.1 L266.0 202.0 L267.8 202.4 L269.3 203.2 L271.0 201.0 L273.3 204.4 L274.3 204.2 L276.3 198.6 L278.2 200.0 L280.3 200.1" stroke="#80b060" stroke-width="0.9" fill="none"/>
<path d="M126.0 201.5a2.6 2.6 0 1 0 5.2 0a2.6 2.6 0 1 0 -5.2 0zM127.8 200.9a2.6 2.6 0 1 0 5.2 0a2.6 2.6 0 1 0 -5.2 0zM130.3 203.0a2.6 2.6 0 1 0 5.2 0a2.6 2.6 0 1 0 -5.2 0zM133.9 205.1a2.6 2.6 0 1 0 5.2 0a2.6 2.6 0 1 0 -5.2 0zM136.0 203.0a2.6 2.6 0 1 0 5.2 0a2.6 2.6 0 1 0 -5.2 0zM137.5 204.4a2.6 2.6 0 1 0 5.2 0a2.6 2.6 0 1 0 -5.2 0zM141.1 202.3a2.6 2.6 0 1 0 5.2 0a2.6 2.6 0 1 0 -5.2 0zM141.5 202.5a2.6 2.6 0 1 0 5.2 0a2.6 2.6 0 1 0 -5.2 0zM141.8 203.7a2.6 2.6 0 1 0 5.2 0a2.6 2.6 0 1 0 -5.2 0zM145.9 202.6a2.6 2.6 0 1 0 5.2 0a2.6 2.6 0 1 0 -5.2 0zM146.1 200.1a2.6 2.6 0 1 0 5.2 0a2.6 2.6 0 1 0 -5.2 0zM147.5 205.1a2.6 2.6 0 1 0 5.2 0a2.6 2.6 0 1 0 -5.2 0zM149.7 202.3a2.6 2.6 0 1 0 5.2 0a2.6 2.6 0 1 0 -5.2 0zM149.8 203.4a2.6 2.6 0 1 0 5.2 0a2.6 2.6 0 1 0 -5.2 0zM151.8 205.1a2.6 2.6 0 1 0 5.2 0a2.6 2.6 0 1 0 -5.2 0zM154.0 198.0a2.6 2.6 0 1 0 5.2 0a2.6 2.6 0 1 0 -5.2 0zM154.2 197.1a2.6 2.6 0 1 0 5.2 0a2.6 2.6 0 1 0 -5.2 0zM156.1 199.4a2.6 2.6 0 1 0 5.2 0a2.6 2.6 0 1 0 -5.2 0zM156.8 190.8a2.6 2.6 0 1 0 5.2 0a2.6 2.6 0 1 0 -5.2 0zM157.7 193.2a2.6 2.6 0 1 0 5.2 0a2.6 2.6 0 1 0 -5.2 0zM159.0 192.9a2.6 2.6 0 1 0 5.2 0a2.6 2.6 0 1 0 -5.2 0zM160.4 184.3a2.6 2.6 0 1 0 5.2 0a2.6 2.6 0 1 0 -5.2 0zM161.1 187.9a2.6 2.6 0 1 0 5.2 0a2.6 2.6 0 1 0 -5.2 0zM163.3 193.7a2.6 2.6 0 1 0 5.2 0a2.6 2.6 0 1 0 -5.2 0zM164.7 187.9a2.6 2.6 0 1 0 5.2 0a2.6 2.6 0 1 0 -5.2 0zM165.6 183.5a2.6 2.6 0 1 0 5.2 0a2.6 2.6 0 1 0 -5.2 0zM165.9 175.6a2.6 2.6 0 1 0 5.2 0a2.6 2.6 0 1 0 -5.2 0zM166.9 175.7a2.6 2.6 0 1 0 5.2 0a2.6 2.6 0 1 0 -5.2 0zM168.3 176.1a2.6 2.6 0 1 0 5.2 0a2.6 2.6 0 1 0 -5.2 0zM169.3 177.3a2.6 2.6 0 1 0 5.2 0a2.6 2.6 0 1 0 -5.2 0zM169.7 178.6a2.6 2.6 0 1 0 5.2 0a2.6 2.6 0 1 0 -5.2 0zM171.4 172.0a2.6 2.6 0 1 0 5.2 0a2.6 2.6 0 1 0 -5.2 0zM171.5 173.5a2.6 2.6 0 1 0 5.2 0a2.6 2.6 0 1 0 -5.2 0zM173.5 168.9a2.6 2.6 0 1 0 5.2 0a2.6 2.6 0 1 0 -5.2 0zM175.5 163.9a2.6 2.6 0 1 0 5.2 0a2.6 2.6 0 1 0 -5.2 0zM176.1 160.5a2.6 2.6 0 1 0 5.2 0a2.6 2.6 0 1 0 -5.2 0zM176.9 174.0a2.6 2.6 0 1 0 5.2 0a2.6 2.6 0 1 0 -5.2 0zM176.9 170.5a2.6 2.6 0 1 0 5.2 0a2.6 2.6 0 1 0 -5.2 0zM178.4 170.0a2.6 2.6 0 1 0 5.2 0a2.6 2.6 0 1 0 -5.2 0zM181.1 177.3a2.6 2.6 0 1 0 5.2 0a2.6 2.6 0 1 0 -5.2 0zM181.6 176.1a2.6 2.6 0 1 0 5.2 0a2.6 2.6 0 1 0 -5.2 0zM182.8 172.3a2.6 2.6 0 1 0 5.2 0a2.6 2.6 0 1 0 -5.2 0zM183.4 178.0a2.6 2.6 0 1 0 5.2 0a2.6 2.6 0 1 0 -5.2 0zM184.2 177.1a2.6 2.6 0 1 0 5.2 0a2.6 2.6 0 1 0 -5.2 0zM186.2 175.6a2.6 2.6 0 1 0 5.2 0a2.6 2.6 0 1 0 -5.2 0zM187.9 187.5a2.6 2.6 0 1 0 5.2 0a2.6 2.6 0 1 0 -5.2 0zM188.9 183.2a2.6 2.6 0 1 0 5.2 0a2.6 2.6 0 1 0 -5.2 0zM189.4 180.0a2.6 2.6 0 1 0 5.2 0a2.6 2.6 0 1 0 -5.2 0zM192.1 175.6a2.6 2.6 0 1 0 5.2 0a2.6 2.6 0 1 0 -5.2 0zM192.8 176.6a2.6 2.6 0 1 0 5.2 0a2.6 2.6 0 1 0 -5.2 0zM193.4 178.4a2.6 2.6 0 1 0 5.2 0a2.6 2.6 0 1 0 -5.2 0zM193.4 181.1a2.6 2.6 0 1 0 5.2 0a2.6 2.6 0 1 0 -5.2 0zM193.9 175.0a2.6 2.6 0 1 0 5.2 0a2.6 2.6 0 1 0 -5.2 0zM194.6 184.1a2.6 2.6 0 1 0 5.2 0a2.6 2.6 0 1 0 -5.2 0zM195.4 188.1a2.6 2.6 0 1 0 5.2 0a2.6 2.6 0 1 0 -5.2 0zM197.0 185.8a2.6 2.6 0 1 0 5.2 0a2.6 2.6 0 1 0 -5.2 0zM197.9 184.1a2.6 2.6 0 1 0 5.2 0a2.6 2.6 0 1 0 -5.2 0zM199.4 193.1a2.6 2.6 0 1 0 5.2 0a2.6 2.6 0 1 0 -5.2 0zM199.5 191.4a2.6 2.6 0 1 0 5.2 0a2.6 2.6 0 1 0 -5.2 0zM200.4 189.1a2.6 2.6 0 1 0 5.2 0a2.6 2.6 0 1 0 -5.2 0zM203.4 195.1a2.6 2.6 0 1 0 5.2 0a2.6 2.6 0 1 0 -5.2 0zM203.8 192.3a2.6 2.6 0 1 0 5.2 0a2.6 2.6 0 1 0 -5.2 0zM204.4 191.1a2.6 2.6 0 1 0 5.2 0a2.6 2.6 0 1 0 -5.2 0zM208.5 192.1a2.6 2.6 0 1 0 5.2 0a2.6 2.6 0 1 0 -5.2 0zM209.8 188.4a2.6 2.6 0 1 0 5.2 0a2.6 2.6 0 1 0 -5.2 0zM210.0 183.1a2.6 2.6 0 1 0 5.2 0a2.6 2.6 0 1 0 -5.2 0zM212.5 192.4a2.6 2.6 0 1 0 5.2 0a2.6 2.6 0 1 0 -5.2 0zM212.5 188.1a2.6 2.6 0 1 0 5.2 0a2.6 2.6 0 1 0 -5.2 0zM213.5 196.1a2.6 2.6 0 1 0 5.2 0a2.6 2.6 0 1 0 -5.2 0zM214.5 183.1a2.6 2.6 0 1 0 5.2 0a2.6 2.6 0 1 0 -5.2 0zM216.6 187.6a2.6 2.6 0 1 0 5.2 0a2.6 2.6 0 1 0 -5.2 0zM218.5 189.1a2.6 2.6 0 1 0 5.2 0a2.6 2.6 0 1 0 -5.2 0zM220.5 194.1a2.6 2.6 0 1 0 5.2 0a2.6 2.6 0 1 0 -5.2 0zM221.5 195.8a2.6 2.6 0 1 0 5.2 0a2.6 2.6 0 1 0 -5.2 0zM221.5 199.1a2.6 2.6 0 1 0 5.2 0a2.6 2.6 0 1 0 -5.2 0zM224.5 192.1a2.6 2.6 0 1 0 5.2 0a2.6 2.6 0 1 0 -5.2 0zM226.5 195.6a2.6 2.6 0 1 0 5.2 0a2.6 2.6 0 1 0 -5.2 0zM226.5 202.1a2.6 2.6 0 1 0 5.2 0a2.6 2.6 0 1 0 -5.2 0zM228.5 197.1a2.6 2.6 0 1 0 5.2 0a2.6 2.6 0 1 0 -5.2 0zM230.4 199.6a2.6 2.6 0 1 0 5.2 0a2.6 2.6 0 1 0 -5.2 0zM232.6 200.1a2.6 2.6 0 1 0 5.2 0a2.6 2.6 0 1 0 -5.2 0zM235.4 200.6a2.6 2.6 0 1 0 5.2 0a2.6 2.6 0 1 0 -5.2 0zM235.6 203.2a2.6 2.6 0 1 0 5.2 0a2.6 2.6 0 1 0 -5.2 0zM236.6 198.1a2.6 2.6 0 1 0 5.2 0a2.6 2.6 0 1 0 -5.2 0zM241.6 202.1a2.6 2.6 0 1 0 5.2 0a2.6 2.6 0 1 0 -5.2 0zM242.6 203.2a2.6 2.6 0 1 0 5.2 0a2.6 2.6 0 1 0 -5.2 0zM245.4 203.0a2.6 2.6 0 1 0 5.2 0a2.6 2.6 0 1 0 -5.2 0zM249.6 204.2a2.6 2.6 0 1 0 5.2 0a2.6 2.6 0 1 0 -5.2 0zM250.6 201.1a2.6 2.6 0 1 0 5.2 0a2.6 2.6 0 1 0 -5.2 0zM250.6 202.9a2.6 2.6 0 1 0 5.2 0a2.6 2.6 0 1 0 -5.2 0zM253.4 202.0a2.6 2.6 0 1 0 5.2 0a2.6 2.6 0 1 0 -5.2 0zM255.8 202.4a2.6 2.6 0 1 0 5.2 0a2.6 2.6 0 1 0 -5.2 0zM256.7 204.2a2.6 2.6 0 1 0 5.2 0a2.6 2.6 0 1 0 -5.2 0zM257.7 200.1a2.6 2.6 0 1 0 5.2 0a2.6 2.6 0 1 0 -5.2 0zM260.1 200.0a2.6 2.6 0 1 0 5.2 0a2.6 2.6 0 1 0 -5.2 0zM261.7 199.1a2.6 2.6 0 1 0 5.2 0a2.6 2.6 0 1 0 -5.2 0zM263.4 202.0a2.6 2.6 0 1 0 5.2 0a2.6 2.6 0 1 0 -5.2 0zM265.2 202.4a2.6 2.6 0 1 0 5.2 0a2.6 2.6 0 1 0 -5.2 0zM266.7 203.2a2.6 2.6 0 1 0 5.2 0a2.6 2.6 0 1 0 -5.2 0zM268.4 201.0a2.6 2.6 0 1 0 5.2 0a2.6 2.6 0 1 0 -5.2 0zM270.7 204.4a2.6 2.6 0 1 0 5.2 0a2.6 2.6 0 1 0 -5.2 0zM271.7 204.2a2.6 2.6 0 1 0 5.2 0a2.6 2.6 0 1 0 -5.2 0zM273.7 198.6a2.6 2.6 0 1 0 5.2 0a2.6 2.6 0 1 0 -5.2 0zM275.6 200.0a2.6 2.6 0 1 0 5.2 0a2.6 2.6 0 1 0 -5.2 0zM277.7 200.1a2.6 2.6 0 1 0 5.2 0a2.6 2.6 0 1 0 -5.2 0z" fill="#66c23a" stroke="#1f5a12" stroke-width="0.8" stroke-linejoin="miter"/>
<path d="M386.6 204.0 C395.5 203.9 429.4 203.9 440.0 203.7 C450.6 203.5 447.0 203.5 450.5 202.9 C454.0 202.3 457.7 201.8 460.9 200.2 C464.1 198.6 466.8 195.6 469.7 193.3 C472.6 191.0 475.5 188.1 478.4 186.3 C481.3 184.5 484.8 182.8 487.1 182.4 C489.4 182.0 490.0 183.2 492.3 183.7 C494.6 184.2 498.1 185.0 501.0 185.4 C503.9 185.8 506.6 186.5 509.8 186.3 C513.0 186.2 517.3 184.2 520.2 184.5 C523.1 184.8 524.6 186.2 527.2 188.0 C529.8 189.8 533.0 192.8 535.9 195.0 C538.8 197.2 541.8 199.7 544.7 201.1 C547.6 202.5 550.9 203.0 553.4 203.4 C555.9 203.8 549.6 203.6 560.0 203.7 C570.4 203.8 606.2 203.9 615.5 204.0" stroke="#5aa532" stroke-width="1.6" fill="none" stroke-linejoin="round" stroke-linecap="round"/>
<path d="M386.6 114.1 C393.8 114.0 420.2 113.6 430.0 113.3 C439.8 113.0 441.4 113.0 445.5 112.5 C449.6 112.0 452.2 111.5 454.8 110.5 C457.4 109.5 459.2 108.4 461.0 106.6 C462.8 104.8 464.1 102.2 465.7 99.6 C467.2 97.0 468.9 93.3 470.3 91.1 C471.7 88.9 472.9 89.0 474.2 86.4 C475.5 83.8 476.8 77.8 478.1 75.6 C479.4 73.4 480.8 74.3 481.9 73.0 C483.0 71.7 483.8 69.0 484.6 67.8 C485.4 66.5 485.9 65.5 486.6 65.5 C487.3 65.5 488.1 65.9 488.9 67.8 C489.7 69.7 490.2 74.5 491.2 77.1 C492.2 79.7 493.9 80.3 495.1 83.3 C496.3 86.3 497.2 90.5 498.2 95.0 C499.2 99.5 500.4 106.3 501.3 110.5 C502.2 114.7 502.9 116.7 503.7 120.0 C504.5 123.3 505.3 126.1 506.3 130.5 C507.3 134.9 508.6 140.7 509.8 146.2 C511.0 151.7 512.0 158.7 513.3 163.6 C514.6 168.5 516.5 172.3 517.6 175.8 C518.7 179.3 519.0 184.2 519.9 184.5 C520.8 184.8 521.7 180.2 522.9 177.6 C524.1 175.0 525.6 172.9 527.2 168.8 C528.8 164.7 530.6 157.8 532.4 153.1 C534.1 148.4 536.1 144.6 537.7 140.9 C539.3 137.2 540.3 134.0 541.9 131.0 C543.5 128.0 545.1 125.2 547.1 123.0 C549.1 120.8 550.9 118.9 554.1 117.6 C557.3 116.3 561.4 116.0 566.3 115.4 C571.2 114.9 575.5 114.5 583.7 114.3 C591.9 114.1 610.2 114.1 615.5 114.1" stroke="#3f74c8" stroke-width="1.6" fill="none" stroke-linejoin="round" stroke-linecap="round"/>
<path d="M386.6 114.1 C393.8 114.2 420.2 114.4 430.0 114.8 C439.8 115.2 441.1 115.5 445.5 116.4 C449.9 117.4 453.5 118.7 456.4 120.5 C459.3 122.3 460.8 123.9 462.7 127.0 C464.6 130.1 466.2 134.8 467.9 139.2 C469.6 143.5 471.4 148.4 473.1 153.1 C474.9 157.8 476.8 163.3 478.4 167.1 C480.0 170.9 481.4 172.9 482.7 175.8 C484.0 178.7 485.0 184.5 486.2 184.5 C487.4 184.5 488.4 179.0 489.7 175.8 C491.0 172.6 492.7 170.1 494.1 165.4 C495.6 160.8 497.1 153.7 498.4 147.9 C499.7 142.1 500.9 135.5 501.9 130.5 C502.9 125.5 503.6 122.4 504.5 118.0 C505.4 113.6 505.7 110.3 507.0 104.0 C508.3 97.7 510.6 85.3 512.2 80.0 C513.8 74.7 515.6 74.8 516.6 72.3 C517.6 69.8 517.6 67.2 518.3 65.3 C519.0 63.4 519.7 60.5 520.6 60.9 C521.5 61.3 522.4 66.3 523.5 67.9 C524.6 69.5 525.8 69.0 527.0 70.5 C528.2 72.0 529.3 74.0 530.5 76.6 C531.7 79.2 532.8 83.6 534.0 86.2 C535.2 88.8 536.2 89.5 537.5 92.3 C538.8 95.1 540.3 100.0 541.9 102.8 C543.5 105.6 544.8 107.4 547.1 108.9 C549.4 110.4 552.0 111.2 555.8 111.9 C559.6 112.6 564.6 113.0 569.8 113.3 C575.0 113.6 579.6 113.7 587.2 113.8 C594.8 113.9 610.8 114.0 615.5 114.1" stroke="#bf3a20" stroke-width="1.6" fill="none" stroke-linejoin="round" stroke-linecap="round"/>
<path d="M711.0 111.9 C715.8 111.9 732.2 111.9 740.0 111.6 C747.8 111.3 752.6 110.9 757.6 110.3 C762.6 109.7 766.6 109.2 769.8 108.1 C773.0 107.0 774.7 105.8 776.7 103.7 C778.7 101.7 780.2 98.7 782.0 95.8 C783.8 92.9 785.8 88.8 787.2 86.2 C788.7 83.6 789.4 83.0 790.7 80.1 C792.0 77.2 793.8 71.3 795.1 68.8 C796.4 66.3 797.4 67.0 798.6 65.3 C799.9 63.5 801.4 58.4 802.6 58.3 C803.8 58.2 805.1 62.8 806.0 64.8 C806.9 66.8 807.3 68.8 808.2 70.5 C809.1 72.2 810.3 72.7 811.3 74.9 C812.3 77.1 813.1 80.4 814.0 83.6 C814.9 86.8 815.8 91.4 816.6 94.1 C817.4 96.8 817.9 99.7 818.8 99.7 C819.7 99.7 820.9 96.8 821.8 94.1 C822.7 91.4 823.7 86.2 824.4 83.6 C825.1 81.0 825.5 80.4 826.2 78.4 C826.9 76.4 827.8 73.7 828.8 71.4 C829.8 69.1 831.1 67.3 832.3 64.4 C833.5 61.5 835.2 55.7 835.8 54.0" stroke="#111" stroke-width="2.0" fill="none" stroke-linejoin="round" stroke-linecap="round"/>
<path d="M702.6 111.9 L704.2 111.9 L705.8 111.9 L707.4 111.9 L709.0 111.9 L710.6 111.8 L712.2 111.8 L713.8 111.8 L715.4 111.8 L717.0 111.8 L718.6 111.8 L720.2 111.8 L721.8 111.8 L723.4 111.7 L725.0 111.7 L726.6 111.7 L728.2 111.7 L729.8 111.7 L731.4 111.7 L733.0 111.7 L734.6 111.7 L736.2 111.7 L737.8 111.6 L739.4 111.6 L741.0 111.6 L742.6 111.6 L744.2 111.6 L745.8 111.6 L747.4 111.6 L749.0 111.6 L750.6 111.6 L752.2 111.5 L753.8 111.5 L755.4 111.5 L757.0 111.5 L758.6 111.6 L760.2 111.3 L761.8 112.5 L763.4 111.7 L765.0 112.8 L766.6 112.0 L768.2 113.2 L769.8 112.4 L771.4 113.7 L773.0 113.0 L774.6 114.3 L776.2 113.7 L777.8 115.0 L779.4 114.2 L781.0 115.5 L782.6 114.7 L784.2 116.0 L785.8 115.2 L787.4 116.5 L789.0 115.7 L790.6 117.0 L792.2 116.2 L793.8 117.3 L795.4 116.4 L797.0 117.5 L798.6 116.6 L800.2 117.7 L801.8 116.8 L803.4 117.1 L805.0 115.4 L806.6 115.7 L808.2 114.0 L809.8 113.9 L811.4 111.7 L813.0 111.5 L814.6 109.4 L816.2 109.5 L817.8 107.6 L819.4 107.7 L821.0 105.8 L822.6 106.0 L824.2 104.8 L825.8 105.6 L827.4 104.4 L829.0 105.3 L830.6 104.1 L832.2 105.0 L833.8 103.8 L835.4 104.9 L837.0 104.5 L838.6 106.0 L840.2 105.6 L841.8 107.2 L843.4 106.8 L845.0 108.4 L846.6 107.8 L848.2 109.2 L849.8 108.7 L851.4 110.1 L853.0 109.5 L854.6 110.9 L856.2 110.3 L857.8 111.7 L859.4 110.7 L861.0 111.2 L862.6 111.2 L864.2 111.2 L865.8 111.3 L867.4 111.3 L869.0 111.3 L870.6 111.3 L872.2 111.3 L873.8 111.3 L875.4 111.3 L877.0 111.3 L878.6 111.3 L880.2 111.4 L881.8 111.4 L883.4 111.4 L885.0 111.4 L886.6 111.4 L888.2 111.4 L889.8 111.4 L891.4 111.4 L893.0 111.4 L894.6 111.5 L896.2 111.5 L897.8 111.5 L899.4 111.5 L901.0 111.5 L902.6 111.5 L904.2 111.5 L905.8 111.5 L907.4 111.5 L909.0 111.5 L910.6 111.6 L912.2 111.6 L913.8 111.6 L915.4 111.6 L917.0 111.6 L918.6 111.6 L920.2 111.6 L921.8 111.6 L923.4 111.6 L925.0 111.7 L926.6 111.7 L928.2 111.7 L929.8 111.7 L931.4 111.7" stroke="#d98b2b" stroke-width="1.6" fill="none" stroke-linejoin="round" stroke-linecap="round"/>
<path d="M702.6 111.9 C712.2 112.0 749.0 111.8 760.0 112.3 C771.0 112.8 766.1 113.6 768.7 115.0 C771.3 116.4 773.7 118.4 775.7 120.5 C777.7 122.6 779.1 124.8 780.9 127.4 C782.6 130.0 784.5 133.3 786.2 136.2 C788.0 139.1 790.0 142.0 791.4 144.9 C792.8 147.8 793.7 151.6 794.9 153.6 C796.1 155.6 797.2 155.5 798.4 157.1 C799.6 158.7 800.9 163.3 802.2 163.2 C803.5 163.0 804.8 158.8 806.2 156.2 C807.6 153.6 809.3 151.1 810.6 147.5 C811.9 143.9 812.9 139.2 814.1 134.4 C815.3 129.7 816.3 124.8 817.6 119.0 C818.9 113.2 820.4 106.1 821.8 99.3 C823.2 92.5 825.0 83.1 826.2 78.4 C827.4 73.8 827.8 73.7 828.8 71.4 C829.8 69.1 831.1 67.3 832.3 64.4 C833.5 61.5 834.6 54.7 835.8 54.0 C836.9 53.3 837.9 58.2 839.2 60.1 C840.5 62.0 842.3 62.8 843.6 65.3 C844.9 67.8 845.9 72.1 847.1 74.9 C848.3 77.7 849.4 79.9 850.6 81.9 C851.8 83.9 852.7 84.2 854.1 87.1 C855.5 90.0 857.6 96.1 859.3 99.3 C861.0 102.5 862.2 104.5 864.5 106.3 C866.8 108.0 869.5 109.0 873.3 109.8 C877.1 110.6 877.5 110.9 887.2 111.2 C896.9 111.5 924.0 111.6 931.4 111.7" stroke="#4a86c8" stroke-width="1.6" fill="none" stroke-linejoin="round" stroke-linecap="round"/>
<path d="M81.1 378.1 L85.2 387.6 L88.6 382.2 L93.3 378.8 L97.4 380.2 L101.4 382.9 L104.8 384.2 L108.2 379.5 L111.6 385.6 L115.7 386.9 L119.1 386.9 L123.1 384.2 L126.5 384.9 L130.6 383.6 L134.7 385.6 L138.7 386.9 L142.8 384.9 L146.9 387.6 L150.9 384.2 L155.0 388.3 L158.4 388.3 L161.8 387.6 L165.8 386.9 L169.9 391.0 L174.0 393.0 L178.1 391.0 L182.1 395.1 L186.2 398.5 L189.6 398.5 L194.3 404.6 L196.8 406.6 L200.8 407.3 L204.9 410.7 L208.3 410.0 L212.4 411.4 L216.4 411.4 L219.8 410.7 L223.9 408.6 L228.0 412.7 L231.4 407.3 L235.4 405.9 L239.5 402.5 L242.9 399.8 L246.9 399.2 L251.0 393.0 L255.1 395.8 L259.2 390.3 L262.5 393.0 L266.6 387.6 L270.0 389.0 L274.1 390.3 L278.1 388.3 L282.2 389.0 L286.3 389.7 L289.7 391.0 L293.1 383.6 L297.1 384.9 L301.2 391.0 L305.3 386.9" stroke="#8a9ad8" stroke-width="0.9" fill="none"/>
<path d="M81.1 381.3L84.1 376.1L78.1 376.1zM85.2 390.8L88.2 385.6L82.2 385.6zM88.6 385.4L91.6 380.2L85.6 380.2zM93.3 382.0L96.3 376.8L90.3 376.8zM97.4 383.4L100.4 378.2L94.4 378.2zM101.4 386.1L104.4 380.9L98.4 380.9zM104.8 387.4L107.8 382.2L101.8 382.2zM108.2 382.7L111.2 377.5L105.2 377.5zM111.6 388.8L114.6 383.6L108.6 383.6zM115.7 390.1L118.7 384.9L112.7 384.9zM119.1 390.1L122.1 384.9L116.1 384.9zM123.1 387.4L126.1 382.2L120.1 382.2zM126.5 388.1L129.5 382.9L123.5 382.9zM130.6 386.8L133.6 381.6L127.6 381.6zM134.7 388.8L137.7 383.6L131.7 383.6zM138.7 390.1L141.7 384.9L135.7 384.9zM142.8 388.1L145.8 382.9L139.8 382.9zM146.9 390.8L149.9 385.6L143.9 385.6zM150.9 387.4L153.9 382.2L147.9 382.2zM155.0 391.5L158.0 386.3L152.0 386.3zM158.4 391.5L161.4 386.3L155.4 386.3zM161.8 390.8L164.8 385.6L158.8 385.6zM165.8 390.1L168.8 384.9L162.8 384.9zM169.9 394.2L172.9 389.0L166.9 389.0zM174.0 396.2L177.0 391.0L171.0 391.0zM178.1 394.2L181.1 389.0L175.1 389.0zM182.1 398.3L185.1 393.1L179.1 393.1zM186.2 401.7L189.2 396.5L183.2 396.5zM189.6 401.7L192.6 396.5L186.6 396.5zM194.3 407.8L197.3 402.6L191.3 402.6zM196.8 409.8L199.8 404.6L193.8 404.6zM200.8 410.5L203.8 405.3L197.8 405.3zM204.9 413.9L207.9 408.7L201.9 408.7zM208.3 413.2L211.3 408.0L205.3 408.0zM212.4 414.6L215.4 409.4L209.4 409.4zM216.4 414.6L219.4 409.4L213.4 409.4zM219.8 413.9L222.8 408.7L216.8 408.7zM223.9 411.8L226.9 406.6L220.9 406.6zM228.0 415.9L231.0 410.7L225.0 410.7zM231.4 410.5L234.4 405.3L228.4 405.3zM235.4 409.1L238.4 403.9L232.4 403.9zM239.5 405.7L242.5 400.5L236.5 400.5zM242.9 403.0L245.9 397.8L239.9 397.8zM246.9 402.4L249.9 397.2L243.9 397.2zM251.0 396.2L254.0 391.0L248.0 391.0zM255.1 399.0L258.1 393.8L252.1 393.8zM259.2 393.5L262.2 388.3L256.2 388.3zM262.5 396.2L265.5 391.0L259.5 391.0zM266.6 390.8L269.6 385.6L263.6 385.6zM270.0 392.2L273.0 387.0L267.0 387.0zM274.1 393.5L277.1 388.3L271.1 388.3zM278.1 391.5L281.1 386.3L275.1 386.3zM282.2 392.2L285.2 387.0L279.2 387.0zM286.3 392.9L289.3 387.7L283.3 387.7zM289.7 394.2L292.7 389.0L286.7 389.0zM293.1 386.8L296.1 381.6L290.1 381.6zM297.1 388.1L300.1 382.9L294.1 382.9zM301.2 394.2L304.2 389.0L298.2 389.0zM305.3 390.1L308.3 384.9L302.3 384.9z" fill="#3355dd" stroke="#1c2a80" stroke-width="0.8" stroke-linejoin="miter"/>
<path d="M80.4 387.6 L85.2 382.2 L88.6 385.6 L93.3 389.7 L96.7 386.9 L100.1 388.3 L103.5 389.0 L108.2 389.0 L111.6 386.3 L115.7 386.9 L119.1 387.6 L123.1 393.0 L127.2 392.4 L130.6 395.1 L134.7 393.7 L138.1 393.0 L142.1 396.4 L146.2 398.5 L150.3 399.2 L154.3 399.2 L157.7 401.9 L161.8 403.9 L165.8 408.0 L169.9 405.9 L174.0 407.3 L178.1 409.3 L182.1 407.3 L186.2 403.2 L190.3 403.9 L193.4 401.9 L196.8 395.8 L200.8 395.1 L204.2 390.3 L207.6 389.7 L211.7 385.6 L216.4 383.6 L220.5 382.9 L223.9 382.9 L228.0 379.5 L231.4 380.2 L235.4 378.8 L238.8 380.2 L242.9 380.8 L246.9 379.5 L250.3 383.6 L254.4 382.9 L258.5 382.9 L262.5 379.5 L266.6 382.9 L270.0 381.5 L274.1 380.8 L278.1 381.5 L282.2 381.5 L285.6 380.2 L289.7 378.1 L293.1 379.5 L297.1 382.9 L300.5 376.8 L304.6 378.8" stroke="#f08a80" stroke-width="0.9" fill="none"/>
<path d="M80.4 384.4L83.4 389.6L77.4 389.6zM85.2 379.0L88.2 384.2L82.2 384.2zM88.6 382.4L91.6 387.6L85.6 387.6zM93.3 386.5L96.3 391.7L90.3 391.7zM96.7 383.7L99.7 388.9L93.7 388.9zM100.1 385.1L103.1 390.3L97.1 390.3zM103.5 385.8L106.5 391.0L100.5 391.0zM108.2 385.8L111.2 391.0L105.2 391.0zM111.6 383.1L114.6 388.3L108.6 388.3zM115.7 383.7L118.7 388.9L112.7 388.9zM119.1 384.4L122.1 389.6L116.1 389.6zM123.1 389.8L126.1 395.0L120.1 395.0zM127.2 389.2L130.2 394.4L124.2 394.4zM130.6 391.9L133.6 397.1L127.6 397.1zM134.7 390.5L137.7 395.7L131.7 395.7zM138.1 389.8L141.1 395.0L135.1 395.0zM142.1 393.2L145.1 398.4L139.1 398.4zM146.2 395.3L149.2 400.5L143.2 400.5zM150.3 396.0L153.3 401.2L147.3 401.2zM154.3 396.0L157.3 401.2L151.3 401.2zM157.7 398.7L160.7 403.9L154.7 403.9zM161.8 400.7L164.8 405.9L158.8 405.9zM165.8 404.8L168.8 410.0L162.8 410.0zM169.9 402.7L172.9 407.9L166.9 407.9zM174.0 404.1L177.0 409.3L171.0 409.3zM178.1 406.1L181.1 411.3L175.1 411.3zM182.1 404.1L185.1 409.3L179.1 409.3zM186.2 400.0L189.2 405.2L183.2 405.2zM190.3 400.7L193.3 405.9L187.3 405.9zM193.4 398.7L196.4 403.9L190.4 403.9zM196.8 392.6L199.8 397.8L193.8 397.8zM200.8 391.9L203.8 397.1L197.8 397.1zM204.2 387.1L207.2 392.3L201.2 392.3zM207.6 386.5L210.6 391.7L204.6 391.7zM211.7 382.4L214.7 387.6L208.7 387.6zM216.4 380.4L219.4 385.6L213.4 385.6zM220.5 379.7L223.5 384.9L217.5 384.9zM223.9 379.7L226.9 384.9L220.9 384.9zM228.0 376.3L231.0 381.5L225.0 381.5zM231.4 377.0L234.4 382.2L228.4 382.2zM235.4 375.6L238.4 380.8L232.4 380.8zM238.8 377.0L241.8 382.2L235.8 382.2zM242.9 377.6L245.9 382.8L239.9 382.8zM246.9 376.3L249.9 381.5L243.9 381.5zM250.3 380.4L253.3 385.6L247.3 385.6zM254.4 379.7L257.4 384.9L251.4 384.9zM258.5 379.7L261.5 384.9L255.5 384.9zM262.5 376.3L265.5 381.5L259.5 381.5zM266.6 379.7L269.6 384.9L263.6 384.9zM270.0 378.3L273.0 383.5L267.0 383.5zM274.1 377.6L277.1 382.8L271.1 382.8zM278.1 378.3L281.1 383.5L275.1 383.5zM282.2 378.3L285.2 383.5L279.2 383.5zM285.6 377.0L288.6 382.2L282.6 382.2zM289.7 374.9L292.7 380.1L286.7 380.1zM293.1 376.3L296.1 381.5L290.1 381.5zM297.1 379.7L300.1 384.9L294.1 384.9zM300.5 373.6L303.5 378.8L297.5 378.8zM304.6 375.6L307.6 380.8L301.6 380.8z" fill="#f25a22" stroke="#a82810" stroke-width="0.8" stroke-linejoin="miter"/>
<path d="M78.2 463.3 L81.3 465.8 L85.1 460.1 L89.0 462.6 L92.8 462.6 L96.6 462.6 L100.4 460.1 L104.2 458.2 L108.6 462.0 L111.8 458.8 L115.6 456.3 L120.0 457.6 L123.8 453.1 L127.6 454.4 L131.5 452.5 L135.3 450.6 L135.3 453.8 L139.1 450.6 L142.9 450.0 L146.7 446.2 L150.5 447.4 L154.3 443.0 L158.1 441.1 L162.5 439.2 L165.7 436.0 L170.1 434.1 L174.0 431.6 L177.8 430.9 L180.9 427.8 L185.4 429.0 L189.2 429.0 L193.2 427.8 L197.0 427.8 L200.8 428.4 L204.6 430.3 L208.4 431.6 L212.2 434.1 L216.0 436.0 L219.8 437.9 L224.3 439.2 L228.1 439.8 L231.2 444.3 L235.0 446.2 L238.8 448.1 L243.3 450.0 L247.1 452.5 L250.9 454.4 L254.7 451.9 L258.5 457.6 L262.3 458.2 L266.1 460.7 L269.9 460.7 L273.7 460.7 L277.5 462.0 L281.3 460.7 L285.8 461.4 L289.6 461.4 L293.4 467.1 L297.2 463.9 L301.0 463.3 L304.8 465.8" stroke="#80b060" stroke-width="0.9" fill="none"/>
<path d="M75.7 463.3a2.4699999999999998 2.4699999999999998 0 1 0 4.9399999999999995 0a2.4699999999999998 2.4699999999999998 0 1 0 -4.9399999999999995 0zM78.8 465.8a2.4699999999999998 2.4699999999999998 0 1 0 4.9399999999999995 0a2.4699999999999998 2.4699999999999998 0 1 0 -4.9399999999999995 0zM82.6 460.1a2.4699999999999998 2.4699999999999998 0 1 0 4.9399999999999995 0a2.4699999999999998 2.4699999999999998 0 1 0 -4.9399999999999995 0zM86.5 462.6a2.4699999999999998 2.4699999999999998 0 1 0 4.9399999999999995 0a2.4699999999999998 2.4699999999999998 0 1 0 -4.9399999999999995 0zM90.3 462.6a2.4699999999999998 2.4699999999999998 0 1 0 4.9399999999999995 0a2.4699999999999998 2.4699999999999998 0 1 0 -4.9399999999999995 0zM94.1 462.6a2.4699999999999998 2.4699999999999998 0 1 0 4.9399999999999995 0a2.4699999999999998 2.4699999999999998 0 1 0 -4.9399999999999995 0zM97.9 460.1a2.4699999999999998 2.4699999999999998 0 1 0 4.9399999999999995 0a2.4699999999999998 2.4699999999999998 0 1 0 -4.9399999999999995 0zM101.7 458.2a2.4699999999999998 2.4699999999999998 0 1 0 4.9399999999999995 0a2.4699999999999998 2.4699999999999998 0 1 0 -4.9399999999999995 0zM106.1 462.0a2.4699999999999998 2.4699999999999998 0 1 0 4.9399999999999995 0a2.4699999999999998 2.4699999999999998 0 1 0 -4.9399999999999995 0zM109.3 458.8a2.4699999999999998 2.4699999999999998 0 1 0 4.9399999999999995 0a2.4699999999999998 2.4699999999999998 0 1 0 -4.9399999999999995 0zM113.1 456.3a2.4699999999999998 2.4699999999999998 0 1 0 4.9399999999999995 0a2.4699999999999998 2.4699999999999998 0 1 0 -4.9399999999999995 0zM117.5 457.6a2.4699999999999998 2.4699999999999998 0 1 0 4.9399999999999995 0a2.4699999999999998 2.4699999999999998 0 1 0 -4.9399999999999995 0zM121.3 453.1a2.4699999999999998 2.4699999999999998 0 1 0 4.9399999999999995 0a2.4699999999999998 2.4699999999999998 0 1 0 -4.9399999999999995 0zM125.1 454.4a2.4699999999999998 2.4699999999999998 0 1 0 4.9399999999999995 0a2.4699999999999998 2.4699999999999998 0 1 0 -4.9399999999999995 0zM129.0 452.5a2.4699999999999998 2.4699999999999998 0 1 0 4.9399999999999995 0a2.4699999999999998 2.4699999999999998 0 1 0 -4.9399999999999995 0zM132.8 450.6a2.4699999999999998 2.4699999999999998 0 1 0 4.9399999999999995 0a2.4699999999999998 2.4699999999999998 0 1 0 -4.9399999999999995 0zM132.8 453.8a2.4699999999999998 2.4699999999999998 0 1 0 4.9399999999999995 0a2.4699999999999998 2.4699999999999998 0 1 0 -4.9399999999999995 0zM136.6 450.6a2.4699999999999998 2.4699999999999998 0 1 0 4.9399999999999995 0a2.4699999999999998 2.4699999999999998 0 1 0 -4.9399999999999995 0zM140.4 450.0a2.4699999999999998 2.4699999999999998 0 1 0 4.9399999999999995 0a2.4699999999999998 2.4699999999999998 0 1 0 -4.9399999999999995 0zM144.2 446.2a2.4699999999999998 2.4699999999999998 0 1 0 4.9399999999999995 0a2.4699999999999998 2.4699999999999998 0 1 0 -4.9399999999999995 0zM148.0 447.4a2.4699999999999998 2.4699999999999998 0 1 0 4.9399999999999995 0a2.4699999999999998 2.4699999999999998 0 1 0 -4.9399999999999995 0zM151.8 443.0a2.4699999999999998 2.4699999999999998 0 1 0 4.9399999999999995 0a2.4699999999999998 2.4699999999999998 0 1 0 -4.9399999999999995 0zM155.6 441.1a2.4699999999999998 2.4699999999999998 0 1 0 4.9399999999999995 0a2.4699999999999998 2.4699999999999998 0 1 0 -4.9399999999999995 0zM160.0 439.2a2.4699999999999998 2.4699999999999998 0 1 0 4.9399999999999995 0a2.4699999999999998 2.4699999999999998 0 1 0 -4.9399999999999995 0zM163.2 436.0a2.4699999999999998 2.4699999999999998 0 1 0 4.9399999999999995 0a2.4699999999999998 2.4699999999999998 0 1 0 -4.9399999999999995 0zM167.6 434.1a2.4699999999999998 2.4699999999999998 0 1 0 4.9399999999999995 0a2.4699999999999998 2.4699999999999998 0 1 0 -4.9399999999999995 0zM171.5 431.6a2.4699999999999998 2.4699999999999998 0 1 0 4.9399999999999995 0a2.4699999999999998 2.4699999999999998 0 1 0 -4.9399999999999995 0zM175.3 430.9a2.4699999999999998 2.4699999999999998 0 1 0 4.9399999999999995 0a2.4699999999999998 2.4699999999999998 0 1 0 -4.9399999999999995 0zM178.4 427.8a2.4699999999999998 2.4699999999999998 0 1 0 4.9399999999999995 0a2.4699999999999998 2.4699999999999998 0 1 0 -4.9399999999999995 0zM182.9 429.0a2.4699999999999998 2.4699999999999998 0 1 0 4.9399999999999995 0a2.4699999999999998 2.4699999999999998 0 1 0 -4.9399999999999995 0zM186.7 429.0a2.4699999999999998 2.4699999999999998 0 1 0 4.9399999999999995 0a2.4699999999999998 2.4699999999999998 0 1 0 -4.9399999999999995 0zM190.7 427.8a2.4699999999999998 2.4699999999999998 0 1 0 4.9399999999999995 0a2.4699999999999998 2.4699999999999998 0 1 0 -4.9399999999999995 0zM194.5 427.8a2.4699999999999998 2.4699999999999998 0 1 0 4.9399999999999995 0a2.4699999999999998 2.4699999999999998 0 1 0 -4.9399999999999995 0zM198.3 428.4a2.4699999999999998 2.4699999999999998 0 1 0 4.9399999999999995 0a2.4699999999999998 2.4699999999999998 0 1 0 -4.9399999999999995 0zM202.1 430.3a2.4699999999999998 2.4699999999999998 0 1 0 4.9399999999999995 0a2.4699999999999998 2.4699999999999998 0 1 0 -4.9399999999999995 0zM205.9 431.6a2.4699999999999998 2.4699999999999998 0 1 0 4.9399999999999995 0a2.4699999999999998 2.4699999999999998 0 1 0 -4.9399999999999995 0zM209.7 434.1a2.4699999999999998 2.4699999999999998 0 1 0 4.9399999999999995 0a2.4699999999999998 2.4699999999999998 0 1 0 -4.9399999999999995 0zM213.5 436.0a2.4699999999999998 2.4699999999999998 0 1 0 4.9399999999999995 0a2.4699999999999998 2.4699999999999998 0 1 0 -4.9399999999999995 0zM217.3 437.9a2.4699999999999998 2.4699999999999998 0 1 0 4.9399999999999995 0a2.4699999999999998 2.4699999999999998 0 1 0 -4.9399999999999995 0zM221.8 439.2a2.4699999999999998 2.4699999999999998 0 1 0 4.9399999999999995 0a2.4699999999999998 2.4699999999999998 0 1 0 -4.9399999999999995 0zM225.6 439.8a2.4699999999999998 2.4699999999999998 0 1 0 4.9399999999999995 0a2.4699999999999998 2.4699999999999998 0 1 0 -4.9399999999999995 0zM228.7 444.3a2.4699999999999998 2.4699999999999998 0 1 0 4.9399999999999995 0a2.4699999999999998 2.4699999999999998 0 1 0 -4.9399999999999995 0zM232.5 446.2a2.4699999999999998 2.4699999999999998 0 1 0 4.9399999999999995 0a2.4699999999999998 2.4699999999999998 0 1 0 -4.9399999999999995 0zM236.3 448.1a2.4699999999999998 2.4699999999999998 0 1 0 4.9399999999999995 0a2.4699999999999998 2.4699999999999998 0 1 0 -4.9399999999999995 0zM240.8 450.0a2.4699999999999998 2.4699999999999998 0 1 0 4.9399999999999995 0a2.4699999999999998 2.4699999999999998 0 1 0 -4.9399999999999995 0zM244.6 452.5a2.4699999999999998 2.4699999999999998 0 1 0 4.9399999999999995 0a2.4699999999999998 2.4699999999999998 0 1 0 -4.9399999999999995 0zM248.4 454.4a2.4699999999999998 2.4699999999999998 0 1 0 4.9399999999999995 0a2.4699999999999998 2.4699999999999998 0 1 0 -4.9399999999999995 0zM252.2 451.9a2.4699999999999998 2.4699999999999998 0 1 0 4.9399999999999995 0a2.4699999999999998 2.4699999999999998 0 1 0 -4.9399999999999995 0zM256.0 457.6a2.4699999999999998 2.4699999999999998 0 1 0 4.9399999999999995 0a2.4699999999999998 2.4699999999999998 0 1 0 -4.9399999999999995 0zM259.8 458.2a2.4699999999999998 2.4699999999999998 0 1 0 4.9399999999999995 0a2.4699999999999998 2.4699999999999998 0 1 0 -4.9399999999999995 0zM263.6 460.7a2.4699999999999998 2.4699999999999998 0 1 0 4.9399999999999995 0a2.4699999999999998 2.4699999999999998 0 1 0 -4.9399999999999995 0zM267.4 460.7a2.4699999999999998 2.4699999999999998 0 1 0 4.9399999999999995 0a2.4699999999999998 2.4699999999999998 0 1 0 -4.9399999999999995 0zM271.2 460.7a2.4699999999999998 2.4699999999999998 0 1 0 4.9399999999999995 0a2.4699999999999998 2.4699999999999998 0 1 0 -4.9399999999999995 0zM275.0 462.0a2.4699999999999998 2.4699999999999998 0 1 0 4.9399999999999995 0a2.4699999999999998 2.4699999999999998 0 1 0 -4.9399999999999995 0zM278.8 460.7a2.4699999999999998 2.4699999999999998 0 1 0 4.9399999999999995 0a2.4699999999999998 2.4699999999999998 0 1 0 -4.9399999999999995 0zM283.3 461.4a2.4699999999999998 2.4699999999999998 0 1 0 4.9399999999999995 0a2.4699999999999998 2.4699999999999998 0 1 0 -4.9399999999999995 0zM287.1 461.4a2.4699999999999998 2.4699999999999998 0 1 0 4.9399999999999995 0a2.4699999999999998 2.4699999999999998 0 1 0 -4.9399999999999995 0zM290.9 467.1a2.4699999999999998 2.4699999999999998 0 1 0 4.9399999999999995 0a2.4699999999999998 2.4699999999999998 0 1 0 -4.9399999999999995 0zM294.7 463.9a2.4699999999999998 2.4699999999999998 0 1 0 4.9399999999999995 0a2.4699999999999998 2.4699999999999998 0 1 0 -4.9399999999999995 0zM298.5 463.3a2.4699999999999998 2.4699999999999998 0 1 0 4.9399999999999995 0a2.4699999999999998 2.4699999999999998 0 1 0 -4.9399999999999995 0zM302.3 465.8a2.4699999999999998 2.4699999999999998 0 1 0 4.9399999999999995 0a2.4699999999999998 2.4699999999999998 0 1 0 -4.9399999999999995 0z" fill="#66c23a" stroke="#246414" stroke-width="0.8" stroke-linejoin="miter"/>
<path d="M386.6 464.3 C389.6 463.9 398.3 462.9 404.5 461.8 C410.7 460.7 417.8 459.4 423.9 457.7 C430.0 456.0 435.6 454.0 440.9 451.6 C446.2 449.2 451.4 445.9 455.5 443.1 C459.6 440.3 462.4 437.4 465.2 434.6 C468.0 431.8 470.2 429.2 472.5 426.1 C474.8 423.1 476.9 419.2 479.2 416.3 C481.5 413.4 484.2 410.4 486.2 408.4 C488.2 406.4 489.4 405.2 491.4 404.1 C493.4 403.0 496.4 401.9 498.4 401.5 C500.4 401.1 501.8 401.2 503.6 401.5 C505.4 401.8 506.9 401.8 509.0 403.2 C511.1 404.6 513.6 407.9 515.9 410.2 C518.2 412.5 520.6 414.7 522.9 417.2 C525.2 419.7 527.6 422.2 529.9 425.0 C532.2 427.8 534.8 431.4 536.9 433.7 C539.0 436.0 538.6 436.4 542.5 439.0 C546.4 441.6 554.3 446.3 560.1 449.2 C565.9 452.1 571.4 454.5 577.1 456.5 C582.8 458.5 588.0 459.9 594.1 461.3 C600.2 462.7 610.3 464.4 613.5 465.0" stroke="#5aa532" stroke-width="1.6" fill="none" stroke-linejoin="round" stroke-linecap="round"/>
<path d="M386.6 386.3 L388.8 386.7 L391.0 387.1 L393.2 387.5 L395.4 387.9 L397.6 388.3 L399.8 388.7 L402.0 389.1 L404.2 389.8 L406.4 390.6 L408.6 391.4 L410.8 392.2 L413.0 393.0 L415.2 393.7 L417.4 394.5 L419.6 395.3 L421.8 396.1 L424.0 397.4 L426.2 397.8 L428.4 399.6 L430.6 399.5 L432.8 401.8 L435.0 401.4 L437.2 404.4 L439.4 403.8 L441.6 407.1 L443.8 406.2 L446.0 410.0 L448.2 409.3 L450.4 413.3 L452.6 412.6 L454.8 416.6 L457.0 416.0 L459.2 420.1 L461.4 419.6 L463.6 423.5 L465.8 422.6 L468.0 425.5 L470.2 424.9 L472.4 427.5 L474.6 427.2 L476.8 429.3 L479.0 429.5 L481.2 431.0 L483.4 430.1 L485.6 428.9 L487.8 426.9 L490.0 424.8 L492.2 423.3 L494.4 421.9 L496.6 419.3 L498.8 416.4 L501.0 412.7 L503.2 407.6 L505.4 402.5 L507.6 398.8 L509.8 395.1 L512.0 391.0 L514.2 386.5 L516.4 382.9 L518.6 381.8 L520.8 380.7 L523.0 378.4 L525.2 375.8 L527.4 374.4 L529.6 374.4 L531.8 374.2 L534.0 373.0 L536.2 369.5 L538.4 370.4 L540.6 369.6 L542.8 371.8 L545.0 369.4 L547.2 371.6 L549.4 368.8 L551.6 372.1 L553.8 369.8 L556.0 373.3 L558.2 370.5 L560.4 373.7 L562.6 371.0 L564.8 374.1 L567.0 371.8 L569.2 374.7 L571.4 372.9 L573.6 375.3 L575.8 374.0 L578.0 375.6 L580.2 375.0 L582.4 375.9 L584.6 376.0 L586.8 376.2 L589.0 376.2 L591.2 376.2 L593.4 376.2 L595.6 376.2 L597.8 376.2 L600.0 376.2 L602.2 376.3 L604.4 376.4 L606.6 376.5 L608.8 376.7 L611.0 376.8 L613.2 376.9 L615.4 377.0 L615.5 377.0" stroke="#bf3a20" stroke-width="1.6" fill="none" stroke-linejoin="round" stroke-linecap="round"/>
<path d="M386.6 377.0 L388.8 376.9 L391.0 376.8 L393.2 376.7 L395.4 376.6 L397.6 376.4 L399.8 376.3 L402.0 376.2 L404.2 376.0 L406.4 375.7 L408.6 375.5 L410.8 375.2 L413.0 374.9 L415.2 374.7 L417.4 374.2 L419.6 374.6 L421.8 373.2 L424.0 374.4 L426.2 372.3 L428.4 374.2 L430.6 371.3 L432.8 373.9 L435.0 370.4 L437.2 373.4 L439.4 369.4 L441.6 372.8 L443.8 368.5 L446.0 372.1 L448.2 367.7 L450.4 371.2 L452.6 366.8 L454.8 370.2 L457.0 366.8 L459.2 370.6 L461.4 367.6 L463.6 372.1 L465.8 371.2 L468.0 372.7 L470.2 369.4 L472.4 374.1 L474.6 376.2 L476.8 378.8 L479.0 380.2 L481.2 379.2 L483.4 384.2 L485.6 388.3 L487.8 391.0 L490.0 396.0 L492.2 397.1 L494.4 398.2 L496.6 404.3 L498.8 409.5 L501.0 410.5 L503.2 414.3 L505.4 419.4 L507.6 422.8 L509.8 425.2 L512.0 428.2 L514.2 429.3 L516.4 431.5 L518.6 430.3 L520.8 431.0 L523.0 429.6 L525.2 429.6 L527.4 427.4 L529.6 427.4 L531.8 424.7 L534.0 424.2 L536.2 421.5 L538.4 420.9 L540.6 418.2 L542.8 417.5 L545.0 414.8 L547.2 413.7 L549.4 411.1 L551.6 410.0 L553.8 408.1 L556.0 407.1 L558.2 405.5 L560.4 404.2 L562.6 402.9 L564.8 401.5 L567.0 400.6 L569.2 399.7 L571.4 398.8 L573.6 398.0 L575.8 397.1 L578.0 396.2 L580.2 395.3 L582.4 394.4 L584.6 393.8 L586.8 393.1 L589.0 392.5 L591.2 391.8 L593.4 391.1 L595.6 390.5 L597.8 389.8 L600.0 389.1 L602.2 388.8 L604.4 388.4 L606.6 388.0 L608.8 387.6 L611.0 387.2 L613.2 386.8 L615.4 386.4 L615.5 386.4" stroke="#3f74c8" stroke-width="1.6" fill="none" stroke-linejoin="round" stroke-linecap="round"/>
<path d="M705.2 374.9 C707.2 374.7 713.0 374.3 717.4 373.7 C721.8 373.1 726.7 372.0 731.4 371.0 C736.1 370.0 740.8 368.9 745.4 367.6 C750.0 366.3 755.2 364.8 759.3 363.2 C763.4 361.6 766.6 359.9 769.8 358.0 C773.0 356.1 775.6 353.9 778.5 351.9 C781.4 349.9 784.6 348.0 787.2 345.8 C789.8 343.6 792.2 340.7 794.2 338.8 C796.2 336.9 798.0 335.1 799.4 334.4 C800.8 333.7 802.0 334.8 802.9 334.4 C803.8 334.0 803.5 333.1 804.7 331.8 C805.9 330.5 808.5 327.3 809.9 326.6 C811.3 325.9 811.9 327.8 813.4 327.4 C814.9 327.0 816.3 324.8 818.6 324.0 C820.9 323.2 824.5 322.0 827.4 322.6 C830.3 323.2 833.3 325.3 836.2 327.4 C839.1 329.5 842.0 332.5 844.9 335.3 C847.8 338.1 850.7 341.2 853.6 344.0 C856.5 346.8 859.4 349.7 862.3 351.9 C865.2 354.1 868.1 355.5 871.0 357.1 C873.9 358.7 876.9 360.2 879.8 361.5 C882.7 362.8 885.6 363.9 888.5 364.9 C891.4 365.9 894.3 366.7 897.2 367.6 C900.1 368.5 903.0 369.5 905.9 370.2 C908.8 370.9 910.7 371.3 914.7 371.9 C918.7 372.5 927.5 373.4 930.0 373.7" stroke="#111" stroke-width="1.8" fill="none" stroke-linejoin="round" stroke-linecap="round"/>
<path d="M705.2 377.2 L707.7 378.8 L710.2 376.9 L712.7 378.9 L715.2 376.6 L717.7 378.9 L720.2 376.1 L722.7 378.6 L725.2 375.4 L727.7 378.2 L730.2 374.8 L732.7 377.9 L735.2 374.0 L737.7 377.4 L740.2 373.2 L742.7 376.9 L745.2 372.4 L747.7 376.2 L750.2 371.0 L752.7 375.1 L755.2 369.5 L757.7 374.0 L760.2 368.0 L762.7 372.4 L765.2 365.7 L767.7 370.5 L770.2 363.5 L772.7 368.1 L775.2 361.1 L777.7 365.5 L780.2 358.1 L782.7 361.2 L785.2 353.9 L787.7 353.6 L790.2 348.8 L792.7 346.1 L795.2 343.1 L797.7 342.0 L800.2 341.6 L802.7 338.4 L805.2 335.1 L807.7 333.0 L810.2 331.0 L812.7 329.1 L815.2 325.8 L817.7 323.2 L820.2 323.7 L822.7 323.9 L825.2 323.2 L827.7 322.9 L830.2 325.2 L832.7 327.6 L835.2 329.8 L837.7 332.7 L840.2 332.5 L842.7 337.4 L845.2 339.2 L847.7 344.4 L850.2 344.8 L852.7 349.5 L855.2 350.3 L857.7 355.1 L860.2 354.6 L862.7 358.5 L865.2 358.2 L867.7 362.2 L870.2 361.7 L872.7 365.1 L875.2 364.2 L877.7 367.5 L880.2 366.3 L882.7 369.5 L885.2 368.2 L887.7 370.9 L890.2 369.2 L892.7 371.9 L895.2 370.3 L897.7 373.2 L900.2 371.5 L902.7 374.5 L905.2 372.7 L907.7 375.4 L910.2 373.5 L912.7 376.2 L915.2 374.2 L917.7 376.6 L920.2 374.2 L922.7 376.6 L925.2 374.2 L927.7 376.6 L930.0 375.4" stroke="#d98b2b" stroke-width="1.6" fill="none" stroke-linejoin="round" stroke-linecap="round"/>
<path d="M705.2 381.0 L707.7 382.4 L710.2 381.7 L712.7 383.2 L715.2 382.4 L717.7 384.0 L720.2 383.2 L722.7 385.0 L725.2 384.2 L727.7 386.0 L730.2 385.1 L732.7 387.0 L735.2 386.0 L737.7 388.0 L740.2 387.0 L742.7 389.1 L745.2 388.0 L747.7 390.1 L750.2 388.9 L752.7 391.2 L755.2 390.2 L757.7 392.7 L760.2 391.7 L762.7 394.3 L765.2 393.1 L767.7 395.9 L770.2 394.6 L772.7 397.3 L775.2 395.8 L777.7 398.6 L780.2 397.0 L782.7 399.9 L785.2 397.6 L787.7 399.5 L790.2 396.7 L792.7 398.6 L795.2 397.2 L797.7 397.2 L800.2 397.2 L802.7 395.4 L805.2 392.4 L807.7 389.9 L810.2 387.4 L812.7 385.4 L815.2 383.3 L817.7 379.1 L820.2 375.0 L822.7 371.6 L825.2 368.3 L827.7 364.9 L830.2 361.5 L832.7 358.5 L835.2 355.7 L837.7 354.1 L840.2 353.3 L842.7 352.6 L845.2 351.8 L847.7 352.9 L850.2 353.2 L852.7 354.6 L855.2 354.4 L857.7 355.8 L860.2 355.3 L862.7 357.0 L865.2 357.1 L867.7 359.6 L870.2 359.5 L872.7 361.8 L875.2 361.1 L877.7 363.4 L880.2 362.5 L882.7 364.9 L885.2 364.0 L887.7 366.4 L890.2 365.5 L892.7 367.8 L895.2 367.1 L897.7 369.2 L900.2 368.5 L902.7 370.4 L905.2 369.8 L907.7 371.6 L910.2 370.8 L912.7 372.1 L915.2 371.5 L917.7 372.5 L920.2 372.2 L922.7 373.0 L925.2 373.0 L927.7 373.5 L930.0 373.7" stroke="#4a86c8" stroke-width="1.6" fill="none" stroke-linejoin="round" stroke-linecap="round"/>
<path d="M244 303.3H257" stroke="#8a9ad8" stroke-width="1"/>
<path d="M250.5 306.0L253.0 301.7L248.0 301.7z" fill="#3355dd" stroke="#1c2a80" stroke-width="0.7"/>
<path d="M263.00 298.50V310.00" stroke="#777" stroke-width="1.40"/>
<text x="265.60" y="308.10" font-size="13.0" style="fill:#111">0,</text>
<text x="277.04" y="308.10" font-size="13.60" class="sf" style="fill:#111">β</text>
<path d="M285.82 305.30V311.30" stroke="#888" stroke-width="1.00"/>
<path d="M284.02 309.90L285.82 312.30L287.62 309.90z" fill="#888"/>
<path d="M288.82 300.10L292.02 305.90L288.82 311.70" stroke="#111" stroke-width="1.00" fill="none"/>
<path d="M244 323.8H257" stroke="#f08a80" stroke-width="1"/>
<path d="M250.5 321.1L253.0 325.4L248.0 325.4z" fill="#f25a22" stroke="#a82810" stroke-width="0.7"/>
<path d="M263.00 319.00V330.50" stroke="#777" stroke-width="1.40"/>
<text x="265.60" y="328.60" font-size="13.0" style="fill:#111">0,</text>
<text x="277.04" y="328.60" font-size="13.60" class="sf" style="fill:#111">β</text>
<path d="M285.82 332.60V326.60" stroke="#888" stroke-width="1.00"/>
<path d="M284.02 328.00L285.82 325.60L287.62 328.00z" fill="#888"/>
<path d="M288.82 320.60L292.02 326.40L288.82 332.20" stroke="#111" stroke-width="1.00" fill="none"/>
<path d="M244 344.3H257" stroke="#80b060" stroke-width="1"/>
<path d="M248.3 344.3a2.2 2.2 0 1 0 4.4 0a2.2 2.2 0 1 0 -4.4 0z" fill="#66c23a" stroke="#246414" stroke-width="0.7"/>
<path d="M263.00 339.50V351.00" stroke="#777" stroke-width="1.40"/>
<text x="265.60" y="349.10" font-size="13.0" style="fill:#111">−<tspan style="fill:transparent">1</tspan>,</text>
<path d="M277.09 339.79L278.20 339.79L278.20 349.10L277.09 349.10L277.09 342.34C276.44 342.86 275.40 343.12 274.36 343.19L274.36 342.28C275.66 342.08 276.70 341.30 277.09 339.79Z" fill="#111"/>
<text x="284.63" y="349.10" font-size="12.40" class="sf" style="fill:#111">α</text>
<path d="M293.14 353.10V347.10" stroke="#888" stroke-width="1.00"/>
<path d="M291.34 348.50L293.14 346.10L294.94 348.50z" fill="#888"/>
<path d="M296.14 341.10L299.34 346.90L296.14 352.70" stroke="#111" stroke-width="1.00" fill="none"/>
<path d="M549 302.3H560.5" stroke="#3f74c8" stroke-width="1.6"/>
<path d="M567.50 297.50V309.00" stroke="#777" stroke-width="1.40"/>
<text x="570.10" y="307.10" font-size="13.0" style="fill:#111">0,</text>
<text x="581.54" y="307.10" font-size="13.60" class="sf" style="fill:#111">β</text>
<path d="M590.32 304.30V310.30" stroke="#888" stroke-width="1.00"/>
<path d="M588.52 308.90L590.32 311.30L592.12 308.90z" fill="#888"/>
<path d="M593.32 299.10L596.52 304.90L593.32 310.70" stroke="#111" stroke-width="1.00" fill="none"/>
<path d="M549 321.7H560.5" stroke="#bf3a20" stroke-width="1.6"/>
<path d="M567.50 316.90V328.40" stroke="#777" stroke-width="1.40"/>
<text x="570.10" y="326.50" font-size="13.0" style="fill:#111">0,</text>
<text x="581.54" y="326.50" font-size="13.60" class="sf" style="fill:#111">β</text>
<path d="M590.32 330.50V324.50" stroke="#888" stroke-width="1.00"/>
<path d="M588.52 325.90L590.32 323.50L592.12 325.90z" fill="#888"/>
<path d="M593.32 318.50L596.52 324.30L593.32 330.10" stroke="#111" stroke-width="1.00" fill="none"/>
<path d="M549 341.1H560.5" stroke="#5aa532" stroke-width="1.6"/>
<path d="M567.50 336.30V347.80" stroke="#777" stroke-width="1.40"/>
<text x="570.10" y="345.90" font-size="13.0" style="fill:#111">−<tspan style="fill:transparent">1</tspan>,</text>
<path d="M581.59 336.59L582.70 336.59L582.70 345.90L581.59 345.90L581.59 339.14C580.94 339.66 579.90 339.92 578.86 339.99L578.86 339.08C580.16 338.88 581.20 338.10 581.59 336.59Z" fill="#111"/>
<text x="589.13" y="345.90" font-size="12.40" class="sf" style="fill:#111">α</text>
<path d="M597.64 349.90V343.90" stroke="#888" stroke-width="1.00"/>
<path d="M595.84 345.30L597.64 342.90L599.44 345.30z" fill="#888"/>
<path d="M600.64 337.90L603.84 343.70L600.64 349.50" stroke="#111" stroke-width="1.00" fill="none"/>
<path d="M709.5 415.2H721" stroke="#111" stroke-width="1.6"/>
<text x="728" y="420.0" font-size="13">Total polarization of I/I</text>
<path d="M709.5 435.4H721" stroke="#d98b2b" stroke-width="1.6"/>
<text x="728" y="440.2" font-size="13">Polarization of <tspan font-style="italic">I</tspan><tspan class="sf" font-size="9" dy="3" style="fill:#777">α</tspan></text>
<path d="M709.5 455.6H721" stroke="#4a86c8" stroke-width="1.6"/>
<text x="728" y="460.4" font-size="13">Polarization of <tspan font-style="italic">I</tspan><tspan class="sf" font-size="9.5" dy="3" style="fill:#777">β</tspan></text>
<path d="M85.20 50.22V62.41" stroke="#777" stroke-width="1.48"/>
<text x="87.96" y="60.40" font-size="13.78" style="fill:#111">0,</text>
<text x="100.08" y="60.40" font-size="14.42" class="sf" style="fill:#111">β</text>
<path d="M109.38 64.64V58.28" stroke="#888" stroke-width="1.06"/>
<path d="M107.48 59.76L109.38 57.22L111.29 59.76z" fill="#888"/>
<path d="M112.56 51.92L115.96 58.07L112.56 64.22" stroke="#111" stroke-width="1.06" fill="none"/>
<path d="M118.22 56.80H127.54" stroke="#777" stroke-width="1.70"/>
<path d="M120.55 53.62L117.16 56.80L120.55 59.98M125.21 53.62L128.60 56.80L125.21 59.98" stroke="#222" stroke-width="1.06" fill="none"/>
<path d="M131.20 50.22V62.41" stroke="#777" stroke-width="1.48"/>
<text x="133.96" y="60.40" font-size="13.78" style="fill:#111">−<tspan style="fill:transparent">1</tspan>,</text>
<path d="M146.14 50.53L147.31 50.53L147.31 60.40L146.14 60.40L146.14 53.23C145.45 53.79 144.35 54.06 143.25 54.13L143.25 53.17C144.63 52.96 145.73 52.13 146.14 50.53Z" fill="#111"/>
<text x="154.14" y="60.40" font-size="13.14" class="sf" style="fill:#111">α</text>
<path d="M163.16 64.64V58.28" stroke="#888" stroke-width="1.06"/>
<path d="M161.25 59.76L163.16 57.22L165.06 59.76z" fill="#888"/>
<path d="M166.34 51.92L169.73 58.07L166.34 64.22" stroke="#111" stroke-width="1.06" fill="none"/>
<path d="M219.60 38.82V51.01" stroke="#777" stroke-width="1.48"/>
<text x="222.36" y="49.00" font-size="13.78" style="fill:#111">0,</text>
<text x="234.48" y="49.00" font-size="14.42" class="sf" style="fill:#111">β</text>
<path d="M243.78 46.03V52.39" stroke="#888" stroke-width="1.06"/>
<path d="M241.88 50.91L243.78 53.45L245.69 50.91z" fill="#888"/>
<path d="M246.96 40.52L250.36 46.67L246.96 52.82" stroke="#111" stroke-width="1.06" fill="none"/>
<path d="M252.62 45.40H261.94" stroke="#777" stroke-width="1.70"/>
<path d="M254.95 42.22L251.56 45.40L254.95 48.58M259.61 42.22L263.00 45.40L259.61 48.58" stroke="#222" stroke-width="1.06" fill="none"/>
<path d="M265.60 38.82V51.01" stroke="#777" stroke-width="1.48"/>
<text x="268.36" y="49.00" font-size="13.78" style="fill:#111">−<tspan style="fill:transparent">1</tspan>,</text>
<path d="M280.54 39.13L281.71 39.13L281.71 49.00L280.54 49.00L280.54 41.83C279.85 42.39 278.75 42.66 277.65 42.73L277.65 41.77C279.03 41.56 280.13 40.73 280.54 39.13Z" fill="#111"/>
<text x="288.54" y="49.00" font-size="13.14" class="sf" style="fill:#111">α</text>
<path d="M297.56 53.24V46.88" stroke="#888" stroke-width="1.06"/>
<path d="M295.65 48.36L297.56 45.82L299.46 48.36z" fill="#888"/>
<path d="M300.74 40.52L304.13 46.67L300.74 52.82" stroke="#111" stroke-width="1.06" fill="none"/>
</svg></body></html>
